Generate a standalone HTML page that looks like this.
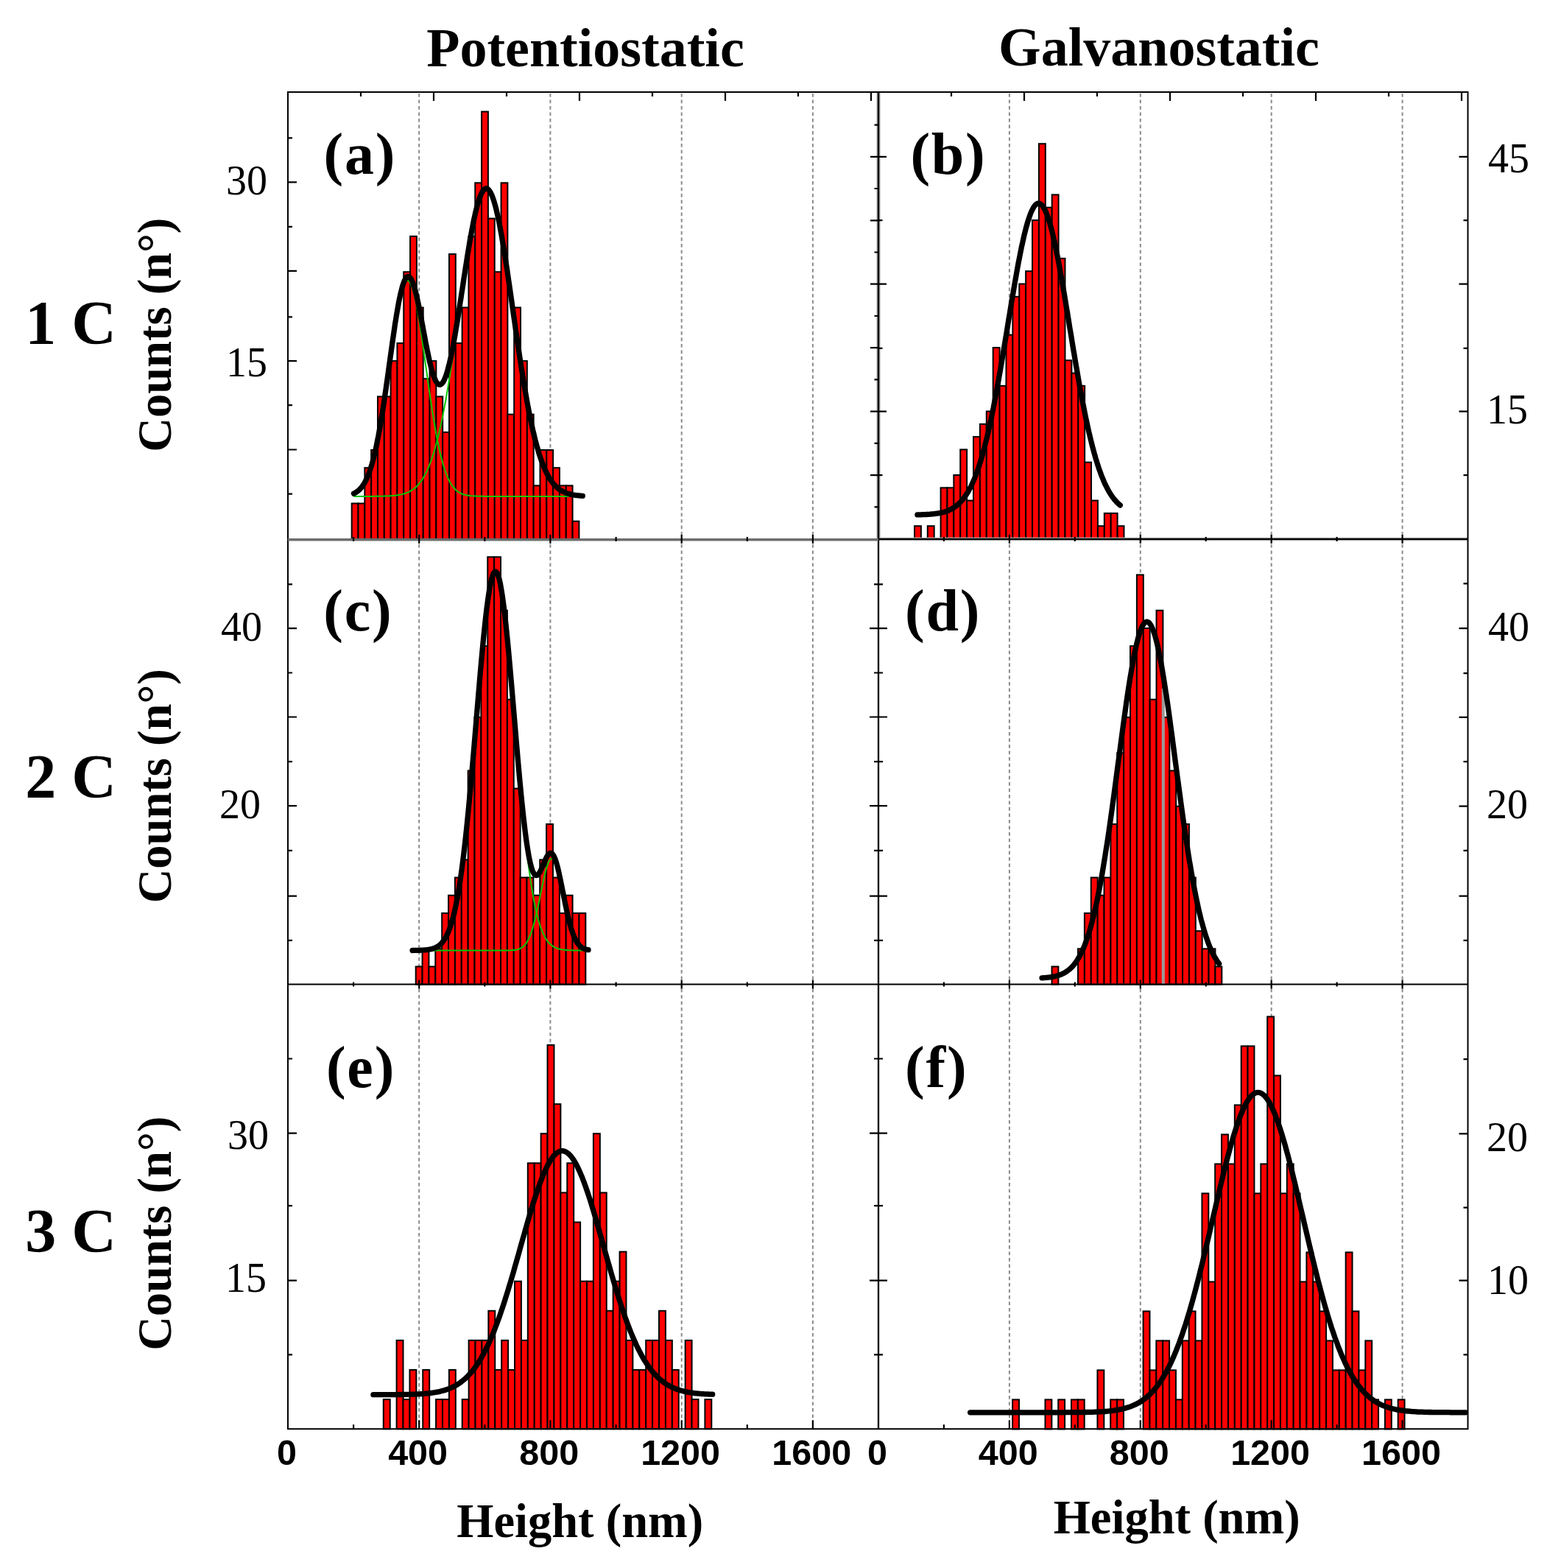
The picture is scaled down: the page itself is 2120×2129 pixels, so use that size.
<!DOCTYPE html>
<html><head><meta charset="utf-8"><style>
html,body{margin:0;padding:0;background:#fff;}
body{width:2120px;height:2129px;overflow:hidden;}
svg{display:block;}
</style></head><body>
<svg width="2120" height="2129" viewBox="0 0 2120 2129">
<rect x="0" y="0" width="2120" height="2129" fill="#fff"/>
<g stroke="#8c8c8c" stroke-width="2" stroke-dasharray="4.8,3.7" fill="none">
<line x1="569.2" y1="127.0" x2="569.2" y2="1939.2"/>
<line x1="747.4" y1="127.0" x2="747.4" y2="1939.2"/>
<line x1="925.7" y1="127.0" x2="925.7" y2="1939.2"/>
<line x1="1103.9" y1="127.0" x2="1103.9" y2="1939.2"/>
<line x1="1370.9" y1="127.0" x2="1370.9" y2="1939.2"/>
<line x1="1548.8" y1="127.0" x2="1548.8" y2="1939.2"/>
<line x1="1726.7" y1="127.0" x2="1726.7" y2="1939.2"/>
<line x1="1904.6" y1="127.0" x2="1904.6" y2="1939.2"/>
</g>
<g fill="#ff0000" stroke="#000" stroke-width="2">
<rect x="477.70" y="683.54" width="8.82" height="48.36"/>
<rect x="486.52" y="683.54" width="8.82" height="48.36"/>
<rect x="495.34" y="635.18" width="8.82" height="96.72"/>
<rect x="504.16" y="611.00" width="8.82" height="120.90"/>
<rect x="512.98" y="538.46" width="8.82" height="193.44"/>
<rect x="521.80" y="538.46" width="8.82" height="193.44"/>
<rect x="530.62" y="490.10" width="8.82" height="241.80"/>
<rect x="539.44" y="465.92" width="8.82" height="265.98"/>
<rect x="548.26" y="369.20" width="8.82" height="362.70"/>
<rect x="557.08" y="320.84" width="8.82" height="411.06"/>
<rect x="565.90" y="417.56" width="8.82" height="314.34"/>
<rect x="574.72" y="514.28" width="8.82" height="217.62"/>
<rect x="583.54" y="490.10" width="8.82" height="241.80"/>
<rect x="592.36" y="538.46" width="8.82" height="193.44"/>
<rect x="601.18" y="586.82" width="8.82" height="145.08"/>
<rect x="610.00" y="345.02" width="8.82" height="386.88"/>
<rect x="618.82" y="465.92" width="8.82" height="265.98"/>
<rect x="627.64" y="417.56" width="8.82" height="314.34"/>
<rect x="636.46" y="320.84" width="8.82" height="411.06"/>
<rect x="645.28" y="248.30" width="8.82" height="483.60"/>
<rect x="654.10" y="151.58" width="8.82" height="580.32"/>
<rect x="662.92" y="296.66" width="8.82" height="435.24"/>
<rect x="671.74" y="369.20" width="8.82" height="362.70"/>
<rect x="680.56" y="248.30" width="8.82" height="483.60"/>
<rect x="689.38" y="562.64" width="8.82" height="169.26"/>
<rect x="698.20" y="417.56" width="8.82" height="314.34"/>
<rect x="707.02" y="490.10" width="8.82" height="241.80"/>
<rect x="715.84" y="562.64" width="8.82" height="169.26"/>
<rect x="724.66" y="659.36" width="8.82" height="72.54"/>
<rect x="733.48" y="611.00" width="8.82" height="120.90"/>
<rect x="742.30" y="611.00" width="8.82" height="120.90"/>
<rect x="751.12" y="635.18" width="8.82" height="96.72"/>
<rect x="759.94" y="659.36" width="8.82" height="72.54"/>
<rect x="768.76" y="659.36" width="8.82" height="72.54"/>
<rect x="777.58" y="707.72" width="8.82" height="24.18"/>
<rect x="1242.00" y="714.20" width="8.89" height="17.30"/>
<rect x="1259.78" y="714.20" width="8.89" height="17.30"/>
<rect x="1277.56" y="662.30" width="8.89" height="69.20"/>
<rect x="1286.45" y="662.30" width="8.89" height="69.20"/>
<rect x="1295.34" y="645.00" width="8.89" height="86.50"/>
<rect x="1304.23" y="610.40" width="8.89" height="121.10"/>
<rect x="1313.12" y="679.60" width="8.89" height="51.90"/>
<rect x="1322.01" y="593.10" width="8.89" height="138.40"/>
<rect x="1330.90" y="575.80" width="8.89" height="155.70"/>
<rect x="1339.79" y="558.50" width="8.89" height="173.00"/>
<rect x="1348.68" y="472.00" width="8.89" height="259.50"/>
<rect x="1357.57" y="523.90" width="8.89" height="207.60"/>
<rect x="1366.46" y="454.70" width="8.89" height="276.80"/>
<rect x="1375.35" y="402.80" width="8.89" height="328.70"/>
<rect x="1384.24" y="385.50" width="8.89" height="346.00"/>
<rect x="1393.13" y="368.20" width="8.89" height="363.30"/>
<rect x="1402.02" y="299.00" width="8.89" height="432.50"/>
<rect x="1410.91" y="195.20" width="8.89" height="536.30"/>
<rect x="1419.80" y="281.70" width="8.89" height="449.80"/>
<rect x="1428.69" y="264.40" width="8.89" height="467.10"/>
<rect x="1437.58" y="350.90" width="8.89" height="380.60"/>
<rect x="1446.47" y="489.30" width="8.89" height="242.20"/>
<rect x="1455.36" y="506.60" width="8.89" height="224.90"/>
<rect x="1464.25" y="523.90" width="8.89" height="207.60"/>
<rect x="1473.14" y="627.70" width="8.89" height="103.80"/>
<rect x="1482.03" y="679.60" width="8.89" height="51.90"/>
<rect x="1490.92" y="714.20" width="8.89" height="17.30"/>
<rect x="1499.81" y="696.90" width="8.89" height="34.60"/>
<rect x="1508.70" y="696.90" width="8.89" height="34.60"/>
<rect x="1517.59" y="714.20" width="8.89" height="17.30"/>
<rect x="564.70" y="1312.42" width="8.87" height="24.18"/>
<rect x="573.57" y="1288.24" width="8.87" height="48.36"/>
<rect x="582.44" y="1312.42" width="8.87" height="24.18"/>
<rect x="591.31" y="1288.24" width="8.87" height="48.36"/>
<rect x="600.18" y="1239.88" width="8.87" height="96.72"/>
<rect x="609.05" y="1215.70" width="8.87" height="120.90"/>
<rect x="617.92" y="1191.52" width="8.87" height="145.08"/>
<rect x="626.79" y="1167.34" width="8.87" height="169.26"/>
<rect x="635.66" y="1046.44" width="8.87" height="290.16"/>
<rect x="644.53" y="973.90" width="8.87" height="362.70"/>
<rect x="653.40" y="877.18" width="8.87" height="459.42"/>
<rect x="662.27" y="756.28" width="8.87" height="580.32"/>
<rect x="671.14" y="756.28" width="8.87" height="580.32"/>
<rect x="680.01" y="828.82" width="8.87" height="507.78"/>
<rect x="688.88" y="949.72" width="8.87" height="386.88"/>
<rect x="697.75" y="1070.62" width="8.87" height="265.98"/>
<rect x="706.62" y="1191.52" width="8.87" height="145.08"/>
<rect x="715.49" y="1191.52" width="8.87" height="145.08"/>
<rect x="724.36" y="1215.70" width="8.87" height="120.90"/>
<rect x="733.23" y="1167.34" width="8.87" height="169.26"/>
<rect x="742.10" y="1118.98" width="8.87" height="217.62"/>
<rect x="750.97" y="1191.52" width="8.87" height="145.08"/>
<rect x="759.84" y="1239.88" width="8.87" height="96.72"/>
<rect x="768.71" y="1215.70" width="8.87" height="120.90"/>
<rect x="777.58" y="1239.88" width="8.87" height="96.72"/>
<rect x="786.45" y="1239.88" width="8.87" height="96.72"/>
<rect x="1428.50" y="1312.42" width="8.88" height="24.18"/>
<rect x="1464.01" y="1288.24" width="8.88" height="48.36"/>
<rect x="1472.88" y="1239.88" width="8.88" height="96.72"/>
<rect x="1481.76" y="1191.52" width="8.88" height="145.08"/>
<rect x="1490.64" y="1215.70" width="8.88" height="120.90"/>
<rect x="1499.52" y="1191.52" width="8.88" height="145.08"/>
<rect x="1508.39" y="1118.98" width="8.88" height="217.62"/>
<rect x="1517.27" y="1022.26" width="8.88" height="314.34"/>
<rect x="1526.15" y="973.90" width="8.88" height="362.70"/>
<rect x="1535.02" y="877.18" width="8.88" height="459.42"/>
<rect x="1543.90" y="780.46" width="8.88" height="556.14"/>
<rect x="1552.78" y="853.00" width="8.88" height="483.60"/>
<rect x="1561.65" y="949.72" width="8.88" height="386.88"/>
<rect x="1570.53" y="828.82" width="8.88" height="507.78"/>
<rect x="1579.41" y="973.90" width="8.88" height="362.70"/>
<rect x="1588.29" y="1046.44" width="8.88" height="290.16"/>
<rect x="1597.16" y="1094.80" width="8.88" height="241.80"/>
<rect x="1606.04" y="1118.98" width="8.88" height="217.62"/>
<rect x="1614.92" y="1191.52" width="8.88" height="145.08"/>
<rect x="1623.79" y="1264.06" width="8.88" height="72.54"/>
<rect x="1632.67" y="1288.24" width="8.88" height="48.36"/>
<rect x="1641.55" y="1288.24" width="8.88" height="48.36"/>
<rect x="1650.42" y="1312.42" width="8.88" height="24.18"/>
<rect x="520.80" y="1900.10" width="8.91" height="40.10"/>
<rect x="538.62" y="1819.90" width="8.91" height="120.30"/>
<rect x="547.53" y="1900.10" width="8.91" height="40.10"/>
<rect x="556.44" y="1860.00" width="8.91" height="80.20"/>
<rect x="574.26" y="1860.00" width="8.91" height="80.20"/>
<rect x="592.08" y="1900.10" width="8.91" height="40.10"/>
<rect x="600.99" y="1900.10" width="8.91" height="40.10"/>
<rect x="609.90" y="1860.00" width="8.91" height="80.20"/>
<rect x="627.72" y="1900.10" width="8.91" height="40.10"/>
<rect x="636.63" y="1819.90" width="8.91" height="120.30"/>
<rect x="645.54" y="1819.90" width="8.91" height="120.30"/>
<rect x="654.45" y="1819.90" width="8.91" height="120.30"/>
<rect x="663.36" y="1779.80" width="8.91" height="160.40"/>
<rect x="672.27" y="1860.00" width="8.91" height="80.20"/>
<rect x="681.18" y="1819.90" width="8.91" height="120.30"/>
<rect x="690.09" y="1860.00" width="8.91" height="80.20"/>
<rect x="699.00" y="1739.70" width="8.91" height="200.50"/>
<rect x="707.91" y="1819.90" width="8.91" height="120.30"/>
<rect x="716.82" y="1579.30" width="8.91" height="360.90"/>
<rect x="725.73" y="1579.30" width="8.91" height="360.90"/>
<rect x="734.64" y="1539.20" width="8.91" height="401.00"/>
<rect x="743.55" y="1418.90" width="8.91" height="521.30"/>
<rect x="752.46" y="1499.10" width="8.91" height="441.10"/>
<rect x="761.37" y="1619.40" width="8.91" height="320.80"/>
<rect x="770.28" y="1579.30" width="8.91" height="360.90"/>
<rect x="779.19" y="1659.50" width="8.91" height="280.70"/>
<rect x="788.10" y="1739.70" width="8.91" height="200.50"/>
<rect x="797.01" y="1739.70" width="8.91" height="200.50"/>
<rect x="805.92" y="1539.20" width="8.91" height="401.00"/>
<rect x="814.83" y="1619.40" width="8.91" height="320.80"/>
<rect x="823.74" y="1779.80" width="8.91" height="160.40"/>
<rect x="832.65" y="1739.70" width="8.91" height="200.50"/>
<rect x="841.56" y="1699.60" width="8.91" height="240.60"/>
<rect x="850.47" y="1819.90" width="8.91" height="120.30"/>
<rect x="859.38" y="1860.00" width="8.91" height="80.20"/>
<rect x="868.29" y="1860.00" width="8.91" height="80.20"/>
<rect x="877.20" y="1819.90" width="8.91" height="120.30"/>
<rect x="886.11" y="1819.90" width="8.91" height="120.30"/>
<rect x="895.02" y="1779.80" width="8.91" height="160.40"/>
<rect x="903.93" y="1819.90" width="8.91" height="120.30"/>
<rect x="912.84" y="1860.00" width="8.91" height="80.20"/>
<rect x="930.66" y="1819.90" width="8.91" height="120.30"/>
<rect x="939.57" y="1900.10" width="8.91" height="40.10"/>
<rect x="957.39" y="1900.10" width="8.91" height="40.10"/>
<rect x="1375.10" y="1900.40" width="8.87" height="40.00"/>
<rect x="1419.47" y="1900.40" width="8.87" height="40.00"/>
<rect x="1437.22" y="1900.40" width="8.87" height="40.00"/>
<rect x="1454.97" y="1900.40" width="8.87" height="40.00"/>
<rect x="1463.84" y="1900.40" width="8.87" height="40.00"/>
<rect x="1490.46" y="1860.40" width="8.87" height="80.00"/>
<rect x="1508.21" y="1900.40" width="8.87" height="40.00"/>
<rect x="1517.08" y="1900.40" width="8.87" height="40.00"/>
<rect x="1552.58" y="1780.40" width="8.87" height="160.00"/>
<rect x="1561.45" y="1860.40" width="8.87" height="80.00"/>
<rect x="1570.33" y="1820.40" width="8.87" height="120.00"/>
<rect x="1579.20" y="1820.40" width="8.87" height="120.00"/>
<rect x="1588.08" y="1860.40" width="8.87" height="80.00"/>
<rect x="1596.95" y="1900.40" width="8.87" height="40.00"/>
<rect x="1605.82" y="1820.40" width="8.87" height="120.00"/>
<rect x="1614.70" y="1780.40" width="8.87" height="160.00"/>
<rect x="1623.57" y="1820.40" width="8.87" height="120.00"/>
<rect x="1632.45" y="1620.40" width="8.87" height="320.00"/>
<rect x="1641.32" y="1740.40" width="8.87" height="200.00"/>
<rect x="1650.19" y="1580.40" width="8.87" height="360.00"/>
<rect x="1659.07" y="1540.40" width="8.87" height="400.00"/>
<rect x="1667.94" y="1580.40" width="8.87" height="360.00"/>
<rect x="1676.82" y="1500.40" width="8.87" height="440.00"/>
<rect x="1685.69" y="1420.40" width="8.87" height="520.00"/>
<rect x="1694.56" y="1420.40" width="8.87" height="520.00"/>
<rect x="1703.44" y="1620.40" width="8.87" height="320.00"/>
<rect x="1712.31" y="1580.40" width="8.87" height="360.00"/>
<rect x="1721.19" y="1380.40" width="8.87" height="560.00"/>
<rect x="1730.06" y="1460.40" width="8.87" height="480.00"/>
<rect x="1738.93" y="1620.40" width="8.87" height="320.00"/>
<rect x="1747.81" y="1580.40" width="8.87" height="360.00"/>
<rect x="1756.68" y="1620.40" width="8.87" height="320.00"/>
<rect x="1765.56" y="1740.40" width="8.87" height="200.00"/>
<rect x="1774.43" y="1700.40" width="8.87" height="240.00"/>
<rect x="1783.30" y="1740.40" width="8.87" height="200.00"/>
<rect x="1792.18" y="1780.40" width="8.87" height="160.00"/>
<rect x="1801.05" y="1820.40" width="8.87" height="120.00"/>
<rect x="1809.93" y="1860.40" width="8.87" height="80.00"/>
<rect x="1818.80" y="1860.40" width="8.87" height="80.00"/>
<rect x="1827.67" y="1700.40" width="8.87" height="240.00"/>
<rect x="1836.55" y="1780.40" width="8.87" height="160.00"/>
<rect x="1845.42" y="1860.40" width="8.87" height="80.00"/>
<rect x="1854.30" y="1820.40" width="8.87" height="120.00"/>
<rect x="1863.17" y="1900.40" width="8.87" height="40.00"/>
<rect x="1880.92" y="1900.40" width="8.87" height="40.00"/>
<rect x="1898.67" y="1900.40" width="8.87" height="40.00"/>
</g>
<rect x="1577.8" y="935" width="4" height="401" fill="#9a9a9a"/>
<path d="M480.3,670.2 L481.3,669.7 L482.3,669.2 L483.2,668.6 L484.2,668.0 L485.2,667.3 L486.2,666.6 L487.2,665.7 L488.1,664.8 L489.1,663.8 L490.1,662.8 L491.1,661.6 L492.1,660.3 L493.1,658.9 L494.0,657.4 L495.0,655.8 L496.0,654.0 L497.0,652.1 L498.0,650.1 L498.9,647.9 L499.9,645.5 L500.9,643.0 L501.9,640.3 L502.9,637.5 L503.8,634.4 L504.8,631.2 L505.8,627.8 L506.8,624.2 L507.8,620.3 L508.7,616.3 L509.7,612.1 L510.7,607.7 L511.7,603.1 L512.7,598.2 L513.7,593.2 L514.6,587.9 L515.6,582.5 L516.6,576.9 L517.6,571.1 L518.6,565.1 L519.5,558.9 L520.5,552.6 L521.5,546.2 L522.5,539.6 L523.5,532.9 L524.4,526.1 L525.4,519.2 L526.4,512.2 L527.4,505.2 L528.4,498.2 L529.3,491.1 L530.3,484.1 L531.3,477.1 L532.3,470.2 L533.3,463.3 L534.3,456.6 L535.2,450.0 L536.2,443.6 L537.2,437.4 L538.2,431.3 L539.2,425.5 L540.1,420.0 L541.1,414.8 L542.1,409.8 L543.1,405.2 L544.1,400.9 L545.0,397.0 L546.0,393.5 L547.0,390.4 L548.0,387.7 L549.0,385.5 L549.9,383.6 L550.9,382.3 L551.9,381.3 L552.9,380.9 L553.9,380.9 L554.9,381.3 L555.8,382.2 L556.8,383.6 L557.8,385.4 L558.8,387.6 L559.8,390.3 L560.7,393.4 L561.7,396.9 L562.7,400.8 L563.7,405.0 L564.7,409.6 L565.6,414.5 L566.6,419.8 L567.6,425.3 L568.6,431.1 L569.6,437.1 L570.5,443.3 L571.5,449.8 L572.5,456.3 L573.5,463.1 L574.5,469.9 L575.5,476.8 L576.4,483.8 L577.4,490.8 L578.4,497.9 L579.4,504.9 L580.4,511.9 L581.3,518.9 L582.3,525.8 L583.3,532.6 L584.3,539.3 L585.3,545.9 L586.2,552.4 L587.2,558.7 L588.2,564.8 L589.2,570.8 L590.2,576.7 L591.1,582.3 L592.1,587.7 L593.1,593.0 L594.1,598.0 L595.1,602.9 L596.1,607.5 L597.0,611.9 L598.0,616.2 L599.0,620.2 L600.0,624.0 L601.0,627.6 L601.9,631.1 L602.9,634.3 L603.9,637.3 L604.9,640.2 L605.9,642.9 L606.8,645.4 L607.8,647.8 L608.8,650.0 L609.8,652.0 L610.8,653.9 L611.7,655.7 L612.7,657.3 L613.7,658.8 L614.7,660.2 L615.7,661.5 L616.7,662.7 L617.6,663.8 L618.6,664.8 L619.6,665.7 L620.6,666.5 L621.6,667.3 L622.5,668.0 L623.5,668.6 L624.5,669.2 L625.5,669.7 L626.5,670.1 L627.4,670.6 L628.4,670.9 L629.4,671.3 L630.4,671.6 L631.4,671.8 L632.3,672.1 L633.3,672.3 L634.3,672.5 L635.3,672.7 L636.3,672.8 L637.2,673.0 L638.2,673.1 L639.2,673.2 L640.2,673.3 L641.2,673.4 L642.2,673.4 L643.1,673.5 L644.1,673.5 L645.1,673.6 L646.1,673.6 L647.1,673.7 L648.0,673.7 L649.0,673.7 L650.0,673.8 L651.0,673.8 L652.0,673.8 L652.9,673.8 L653.9,673.8 L654.9,673.8 L655.9,673.8 L656.9,673.9 L657.8,673.9 L658.8,673.9 L659.8,673.9 L660.8,673.9 L661.8,673.9 L662.8,673.9 L663.7,673.9 L664.7,673.9 L665.7,673.9 L666.7,673.9 L667.7,673.9 L668.6,673.9 L669.6,673.9 L670.6,673.9 L671.6,673.9 L672.6,673.9 L673.5,673.9 L674.5,673.9 L675.5,673.9 L676.5,673.9 L677.5,673.9 L678.4,673.9 L679.4,673.9 L680.4,673.9 L681.4,673.9 L682.4,673.9 L683.4,673.9 L684.3,673.9 L685.3,673.9 L686.3,673.9 L687.3,673.9 L688.3,673.9 L689.2,673.9 L690.2,673.9 L691.2,673.9 L692.2,673.9 L693.2,673.9 L694.1,673.9 L695.1,673.9 L696.1,673.9 L697.1,673.9 L698.1,673.9 L699.0,673.9 L700.0,673.9 L701.0,673.9 L702.0,673.9 L703.0,673.9 L704.0,673.9 L704.9,673.9 L705.9,673.9 L706.9,673.9 L707.9,673.9 L708.9,673.9 L709.8,673.9 L710.8,673.9 L711.8,673.9 L712.8,673.9 L713.8,673.9 L714.7,673.9 L715.7,673.9 L716.7,673.9 L717.7,673.9 L718.7,673.9 L719.6,673.9 L720.6,673.9 L721.6,673.9 L722.6,673.9 L723.6,673.9 L724.6,673.9 L725.5,673.9 L726.5,673.9 L727.5,673.9 L728.5,673.9 L729.5,673.9 L730.4,673.9 L731.4,673.9 L732.4,673.9 L733.4,673.9 L734.4,673.9 L735.3,673.9 L736.3,673.9 L737.3,673.9 L738.3,673.9 L739.3,673.9 L740.2,673.9 L741.2,673.9 L742.2,673.9 L743.2,673.9 L744.2,673.9 L745.2,673.9 L746.1,673.9 L747.1,673.9 L748.1,673.9 L749.1,673.9 L750.1,673.9 L751.0,673.9 L752.0,673.9 L753.0,673.9 L754.0,673.9 L755.0,673.9 L755.9,673.9 L756.9,673.9 L757.9,673.9 L758.9,673.9 L759.9,673.9 L760.8,673.9 L761.8,673.9 L762.8,673.9 L763.8,673.9 L764.8,673.9 L765.8,673.9 L766.7,673.9 L767.7,673.9 L768.7,673.9 L769.7,673.9 L770.7,673.9 L771.6,673.9 L772.6,673.9 L773.6,673.9" fill="none" stroke="#00c800" stroke-width="2"/>
<path d="M480.3,673.9 L481.3,673.9 L482.3,673.9 L483.2,673.9 L484.2,673.9 L485.2,673.9 L486.2,673.9 L487.2,673.9 L488.1,673.9 L489.1,673.9 L490.1,673.9 L491.1,673.9 L492.1,673.9 L493.1,673.9 L494.0,673.9 L495.0,673.9 L496.0,673.9 L497.0,673.9 L498.0,673.9 L498.9,673.9 L499.9,673.9 L500.9,673.9 L501.9,673.9 L502.9,673.9 L503.8,673.9 L504.8,673.9 L505.8,673.9 L506.8,673.9 L507.8,673.8 L508.7,673.8 L509.7,673.8 L510.7,673.8 L511.7,673.8 L512.7,673.8 L513.7,673.8 L514.6,673.8 L515.6,673.8 L516.6,673.8 L517.6,673.7 L518.6,673.7 L519.5,673.7 L520.5,673.7 L521.5,673.6 L522.5,673.6 L523.5,673.6 L524.4,673.6 L525.4,673.5 L526.4,673.5 L527.4,673.4 L528.4,673.4 L529.3,673.3 L530.3,673.3 L531.3,673.2 L532.3,673.1 L533.3,673.1 L534.3,673.0 L535.2,672.9 L536.2,672.8 L537.2,672.7 L538.2,672.5 L539.2,672.4 L540.1,672.3 L541.1,672.1 L542.1,672.0 L543.1,671.8 L544.1,671.6 L545.0,671.4 L546.0,671.1 L547.0,670.9 L548.0,670.6 L549.0,670.3 L549.9,670.0 L550.9,669.7 L551.9,669.3 L552.9,668.9 L553.9,668.5 L554.9,668.1 L555.8,667.6 L556.8,667.1 L557.8,666.5 L558.8,666.0 L559.8,665.3 L560.7,664.7 L561.7,663.9 L562.7,663.2 L563.7,662.4 L564.7,661.5 L565.6,660.6 L566.6,659.6 L567.6,658.5 L568.6,657.4 L569.6,656.3 L570.5,655.0 L571.5,653.7 L572.5,652.3 L573.5,650.9 L574.5,649.3 L575.5,647.7 L576.4,646.0 L577.4,644.1 L578.4,642.2 L579.4,640.2 L580.4,638.1 L581.3,635.9 L582.3,633.6 L583.3,631.2 L584.3,628.7 L585.3,626.0 L586.2,623.2 L587.2,620.3 L588.2,617.3 L589.2,614.2 L590.2,610.9 L591.1,607.5 L592.1,604.0 L593.1,600.4 L594.1,596.6 L595.1,592.6 L596.1,588.6 L597.0,584.4 L598.0,580.0 L599.0,575.6 L600.0,570.9 L601.0,566.2 L601.9,561.3 L602.9,556.3 L603.9,551.1 L604.9,545.8 L605.9,540.4 L606.8,534.9 L607.8,529.2 L608.8,523.4 L609.8,517.5 L610.8,511.5 L611.7,505.4 L612.7,499.2 L613.7,492.9 L614.7,486.4 L615.7,480.0 L616.7,473.4 L617.6,466.7 L618.6,460.1 L619.6,453.3 L620.6,446.5 L621.6,439.7 L622.5,432.8 L623.5,425.9 L624.5,419.0 L625.5,412.2 L626.5,405.3 L627.4,398.4 L628.4,391.6 L629.4,384.9 L630.4,378.1 L631.4,371.5 L632.3,364.9 L633.3,358.4 L634.3,352.1 L635.3,345.8 L636.3,339.7 L637.2,333.7 L638.2,327.8 L639.2,322.1 L640.2,316.6 L641.2,311.3 L642.2,306.1 L643.1,301.2 L644.1,296.4 L645.1,291.9 L646.1,287.6 L647.1,283.6 L648.0,279.8 L649.0,276.3 L650.0,273.0 L651.0,270.0 L652.0,267.3 L652.9,264.8 L653.9,262.7 L654.9,260.8 L655.9,259.3 L656.9,258.0 L657.8,257.0 L658.8,256.4 L659.8,256.1 L660.8,256.0 L661.8,256.3 L662.8,256.9 L663.7,257.8 L664.7,259.0 L665.7,260.5 L666.7,262.3 L667.7,264.4 L668.6,266.7 L669.6,269.4 L670.6,272.4 L671.6,275.6 L672.6,279.1 L673.5,282.8 L674.5,286.8 L675.5,291.0 L676.5,295.5 L677.5,300.2 L678.4,305.1 L679.4,310.2 L680.4,315.5 L681.4,321.0 L682.4,326.7 L683.4,332.5 L684.3,338.5 L685.3,344.6 L686.3,350.8 L687.3,357.2 L688.3,363.6 L689.2,370.2 L690.2,376.8 L691.2,383.5 L692.2,390.3 L693.2,397.1 L694.1,403.9 L695.1,410.8 L696.1,417.7 L697.1,424.6 L698.1,431.4 L699.0,438.3 L700.0,445.1 L701.0,451.9 L702.0,458.7 L703.0,465.4 L704.0,472.1 L704.9,478.6 L705.9,485.2 L706.9,491.6 L707.9,497.9 L708.9,504.2 L709.8,510.3 L710.8,516.3 L711.8,522.3 L712.8,528.1 L713.8,533.8 L714.7,539.3 L715.7,544.8 L716.7,550.1 L717.7,555.3 L718.7,560.3 L719.6,565.2 L720.6,570.0 L721.6,574.6 L722.6,579.1 L723.6,583.5 L724.6,587.7 L725.5,591.8 L726.5,595.8 L727.5,599.6 L728.5,603.3 L729.5,606.8 L730.4,610.3 L731.4,613.6 L732.4,616.7 L733.4,619.8 L734.4,622.7 L735.3,625.5 L736.3,628.1 L737.3,630.7 L738.3,633.1 L739.3,635.5 L740.2,637.7 L741.2,639.8 L742.2,641.8 L743.2,643.8 L744.2,645.6 L745.2,647.3 L746.1,649.0 L747.1,650.6 L748.1,652.0 L749.1,653.4 L750.1,654.8 L751.0,656.0 L752.0,657.2 L753.0,658.3 L754.0,659.4 L755.0,660.4 L755.9,661.3 L756.9,662.2 L757.9,663.0 L758.9,663.8 L759.9,664.5 L760.8,665.2 L761.8,665.8 L762.8,666.4 L763.8,667.0 L764.8,667.5 L765.8,668.0 L766.7,668.4 L767.7,668.9 L768.7,669.3 L769.7,669.6 L770.7,670.0 L771.6,670.3 L772.6,670.6 L773.6,670.8" fill="none" stroke="#00c800" stroke-width="2"/>
<path d="M480.5,670.1 L481.5,669.6 L482.6,669.0 L483.6,668.4 L484.7,667.7 L485.7,666.9 L486.7,666.1 L487.8,665.2 L488.8,664.2 L489.9,663.0 L490.9,661.8 L491.9,660.5 L493.0,659.0 L494.0,657.4 L495.1,655.7 L496.1,653.8 L497.1,651.8 L498.2,649.6 L499.2,647.2 L500.3,644.6 L501.3,641.9 L502.3,639.0 L503.4,635.9 L504.4,632.5 L505.5,629.0 L506.5,625.2 L507.5,621.2 L508.6,617.0 L509.6,612.5 L510.7,607.9 L511.7,603.0 L512.7,597.8 L513.8,592.4 L514.8,586.8 L515.9,581.0 L516.9,575.0 L517.9,568.7 L519.0,562.3 L520.0,555.7 L521.1,548.9 L522.1,541.9 L523.1,534.8 L524.2,527.6 L525.2,520.3 L526.3,512.9 L527.3,505.4 L528.3,497.9 L529.4,490.4 L530.4,482.9 L531.5,475.4 L532.5,468.0 L533.5,460.7 L534.6,453.5 L535.6,446.5 L536.6,439.6 L537.7,433.0 L538.7,426.6 L539.8,420.5 L540.8,414.6 L541.8,409.1 L542.9,404.0 L543.9,399.2 L545.0,394.8 L546.0,390.8 L547.0,387.3 L548.1,384.2 L549.1,381.5 L550.2,379.3 L551.2,377.6 L552.2,376.4 L553.3,375.7 L554.3,375.4 L555.4,375.7 L556.4,376.4 L557.4,377.5 L558.5,379.2 L559.5,381.2 L560.6,383.7 L561.6,386.6 L562.6,389.9 L563.7,393.5 L564.7,397.5 L565.8,401.7 L566.8,406.3 L567.8,411.1 L568.9,416.1 L569.9,421.3 L571.0,426.6 L572.0,432.1 L573.0,437.6 L574.1,443.2 L575.1,448.8 L576.2,454.4 L577.2,460.0 L578.2,465.4 L579.3,470.8 L580.3,476.0 L581.4,481.0 L582.4,485.9 L583.4,490.5 L584.5,494.9 L585.5,499.0 L586.6,502.8 L587.6,506.4 L588.6,509.6 L589.7,512.5 L590.7,515.0 L591.8,517.2 L592.8,519.0 L593.8,520.4 L594.9,521.4 L595.9,522.1 L597.0,522.4 L598.0,522.3 L599.0,521.8 L600.1,520.9 L601.1,519.7 L602.2,518.1 L603.2,516.1 L604.2,513.8 L605.3,511.1 L606.3,508.0 L607.4,504.7 L608.4,501.0 L609.4,497.0 L610.5,492.8 L611.5,488.2 L612.6,483.4 L613.6,478.4 L614.6,473.1 L615.7,467.6 L616.7,461.8 L617.8,455.9 L618.8,449.9 L619.8,443.6 L620.9,437.3 L621.9,430.8 L623.0,424.2 L624.0,417.6 L625.0,410.8 L626.1,404.1 L627.1,397.3 L628.2,390.4 L629.2,383.6 L630.2,376.8 L631.3,370.0 L632.3,363.3 L633.4,356.7 L634.4,350.1 L635.4,343.7 L636.5,337.4 L637.5,331.2 L638.5,325.2 L639.6,319.3 L640.6,313.6 L641.7,308.1 L642.7,302.8 L643.7,297.8 L644.8,293.0 L645.8,288.4 L646.9,284.1 L647.9,280.1 L648.9,276.3 L650.0,272.9 L651.0,269.7 L652.1,266.9 L653.1,264.4 L654.1,262.1 L655.2,260.3 L656.2,258.7 L657.3,257.5 L658.3,256.7 L659.3,256.1 L660.4,256.0 L661.4,256.1 L662.5,256.7 L663.5,257.5 L664.5,258.7 L665.6,260.3 L666.6,262.2 L667.7,264.4 L668.7,266.9 L669.7,269.8 L670.8,272.9 L671.8,276.4 L672.9,280.2 L673.9,284.2 L674.9,288.6 L676.0,293.2 L677.0,298.0 L678.1,303.1 L679.1,308.5 L680.1,314.0 L681.2,319.8 L682.2,325.8 L683.3,331.9 L684.3,338.2 L685.3,344.7 L686.4,351.3 L687.4,358.1 L688.5,365.0 L689.5,371.9 L690.5,379.0 L691.6,386.1 L692.6,393.3 L693.7,400.5 L694.7,407.8 L695.7,415.1 L696.8,422.4 L697.8,429.7 L698.9,437.0 L699.9,444.2 L700.9,451.4 L702.0,458.6 L703.0,465.7 L704.1,472.8 L705.1,479.7 L706.1,486.6 L707.2,493.4 L708.2,500.1 L709.3,506.7 L710.3,513.1 L711.3,519.5 L712.4,525.7 L713.4,531.7 L714.5,537.7 L715.5,543.5 L716.5,549.2 L717.6,554.7 L718.6,560.0 L719.7,565.2 L720.7,570.3 L721.7,575.2 L722.8,580.0 L723.8,584.6 L724.9,589.0 L725.9,593.3 L726.9,597.4 L728.0,601.4 L729.0,605.2 L730.1,608.9 L731.1,612.5 L732.1,615.9 L733.2,619.1 L734.2,622.2 L735.3,625.2 L736.3,628.0 L737.3,630.8 L738.4,633.3 L739.4,635.8 L740.4,638.1 L741.5,640.4 L742.5,642.5 L743.6,644.5 L744.6,646.4 L745.6,648.2 L746.7,649.9 L747.7,651.5 L748.8,653.0 L749.8,654.4 L750.8,655.8 L751.9,657.1 L752.9,658.2 L754.0,659.4 L755.0,660.4 L756.0,661.4 L757.1,662.3 L758.1,663.2 L759.2,664.0 L760.2,664.8 L761.2,665.5 L762.3,666.1 L763.3,666.7 L764.4,667.3 L765.4,667.8 L766.4,668.3 L767.5,668.8 L768.5,669.2 L769.6,669.6 L770.6,669.9 L771.6,670.3 L772.7,670.6 L773.7,670.9 L774.8,671.1 L775.8,671.4 L776.8,671.6 L777.9,671.8 L778.9,672.0 L780.0,672.2 L781.0,672.3 L782.0,672.5 L783.1,672.6 L784.1,672.7 L785.2,672.8 L786.2,672.9 L787.2,673.0 L788.3,673.1 L789.3,673.2 L790.4,673.3 L791.4,673.3" fill="none" stroke="#000" stroke-width="7.3" stroke-linejoin="round" stroke-linecap="round"/>
<path d="M1245.9,698.9 L1246.8,698.9 L1247.7,698.9 L1248.7,698.8 L1249.6,698.8 L1250.5,698.8 L1251.4,698.8 L1252.3,698.7 L1253.3,698.7 L1254.2,698.7 L1255.1,698.6 L1256.0,698.6 L1257.0,698.6 L1257.9,698.5 L1258.8,698.5 L1259.7,698.4 L1260.6,698.4 L1261.6,698.3 L1262.5,698.3 L1263.4,698.2 L1264.3,698.1 L1265.2,698.0 L1266.2,697.9 L1267.1,697.9 L1268.0,697.8 L1268.9,697.7 L1269.8,697.5 L1270.8,697.4 L1271.7,697.3 L1272.6,697.2 L1273.5,697.0 L1274.5,696.9 L1275.4,696.7 L1276.3,696.5 L1277.2,696.3 L1278.1,696.2 L1279.1,695.9 L1280.0,695.7 L1280.9,695.5 L1281.8,695.2 L1282.7,695.0 L1283.7,694.7 L1284.6,694.4 L1285.5,694.1 L1286.4,693.7 L1287.3,693.4 L1288.3,693.0 L1289.2,692.6 L1290.1,692.1 L1291.0,691.7 L1292.0,691.2 L1292.9,690.7 L1293.8,690.2 L1294.7,689.6 L1295.6,689.0 L1296.6,688.4 L1297.5,687.8 L1298.4,687.1 L1299.3,686.4 L1300.2,685.6 L1301.2,684.8 L1302.1,684.0 L1303.0,683.1 L1303.9,682.2 L1304.8,681.2 L1305.8,680.2 L1306.7,679.2 L1307.6,678.1 L1308.5,676.9 L1309.5,675.7 L1310.4,674.4 L1311.3,673.1 L1312.2,671.7 L1313.1,670.3 L1314.1,668.8 L1315.0,667.2 L1315.9,665.6 L1316.8,663.9 L1317.7,662.2 L1318.7,660.4 L1319.6,658.5 L1320.5,656.5 L1321.4,654.5 L1322.3,652.4 L1323.3,650.2 L1324.2,647.9 L1325.1,645.5 L1326.0,643.1 L1327.0,640.6 L1327.9,638.0 L1328.8,635.3 L1329.7,632.6 L1330.6,629.7 L1331.6,626.8 L1332.5,623.8 L1333.4,620.6 L1334.3,617.4 L1335.2,614.1 L1336.2,610.8 L1337.1,607.3 L1338.0,603.7 L1338.9,600.1 L1339.8,596.3 L1340.8,592.5 L1341.7,588.6 L1342.6,584.5 L1343.5,580.4 L1344.5,576.2 L1345.4,572.0 L1346.3,567.6 L1347.2,563.2 L1348.1,558.6 L1349.1,554.0 L1350.0,549.3 L1350.9,544.5 L1351.8,539.7 L1352.7,534.8 L1353.7,529.8 L1354.6,524.7 L1355.5,519.6 L1356.4,514.4 L1357.3,509.2 L1358.3,503.9 L1359.2,498.5 L1360.1,493.1 L1361.0,487.7 L1362.0,482.2 L1362.9,476.7 L1363.8,471.1 L1364.7,465.6 L1365.6,460.0 L1366.6,454.4 L1367.5,448.8 L1368.4,443.1 L1369.3,437.5 L1370.2,431.9 L1371.2,426.3 L1372.1,420.7 L1373.0,415.1 L1373.9,409.6 L1374.8,404.1 L1375.8,398.6 L1376.7,393.2 L1377.6,387.8 L1378.5,382.5 L1379.5,377.2 L1380.4,372.0 L1381.3,366.9 L1382.2,361.9 L1383.1,357.0 L1384.1,352.1 L1385.0,347.4 L1385.9,342.8 L1386.8,338.2 L1387.7,333.8 L1388.7,329.6 L1389.6,325.4 L1390.5,321.4 L1391.4,317.5 L1392.4,313.8 L1393.3,310.2 L1394.2,306.8 L1395.1,303.6 L1396.0,300.5 L1397.0,297.5 L1397.9,294.8 L1398.8,292.2 L1399.7,289.8 L1400.6,287.6 L1401.6,285.6 L1402.5,283.7 L1403.4,282.1 L1404.3,280.6 L1405.2,279.4 L1406.2,278.3 L1407.1,277.5 L1408.0,276.8 L1408.9,276.4 L1409.9,276.2 L1410.8,276.1 L1411.7,276.3 L1412.6,276.6 L1413.5,277.2 L1414.5,278.0 L1415.4,278.9 L1416.3,280.1 L1417.2,281.5 L1418.1,283.0 L1419.1,284.8 L1420.0,286.7 L1420.9,288.9 L1421.8,291.2 L1422.7,293.7 L1423.7,296.4 L1424.6,299.2 L1425.5,302.3 L1426.4,305.5 L1427.4,308.8 L1428.3,312.3 L1429.2,316.0 L1430.1,319.8 L1431.0,323.8 L1432.0,327.8 L1432.9,332.1 L1433.8,336.4 L1434.7,340.9 L1435.6,345.5 L1436.6,350.2 L1437.5,355.0 L1438.4,359.9 L1439.3,364.9 L1440.2,369.9 L1441.2,375.1 L1442.1,380.3 L1443.0,385.6 L1443.9,390.9 L1444.9,396.4 L1445.8,401.8 L1446.7,407.3 L1447.6,412.8 L1448.5,418.4 L1449.5,424.0 L1450.4,429.6 L1451.3,435.2 L1452.2,440.8 L1453.1,446.5 L1454.1,452.1 L1455.0,457.7 L1455.9,463.3 L1456.8,468.9 L1457.7,474.4 L1458.7,480.0 L1459.6,485.4 L1460.5,490.9 L1461.4,496.3 L1462.4,501.7 L1463.3,507.0 L1464.2,512.3 L1465.1,517.5 L1466.0,522.6 L1467.0,527.7 L1467.9,532.7 L1468.8,537.7 L1469.7,542.6 L1470.6,547.4 L1471.6,552.1 L1472.5,556.7 L1473.4,561.3 L1474.3,565.8 L1475.2,570.2 L1476.2,574.5 L1477.1,578.7 L1478.0,582.9 L1478.9,586.9 L1479.9,590.9 L1480.8,594.8 L1481.7,598.5 L1482.6,602.2 L1483.5,605.8 L1484.5,609.4 L1485.4,612.8 L1486.3,616.1 L1487.2,619.3 L1488.1,622.5 L1489.1,625.6 L1490.0,628.5 L1490.9,631.4 L1491.8,634.2 L1492.7,636.9 L1493.7,639.6 L1494.6,642.1 L1495.5,644.6 L1496.4,646.9 L1497.4,649.2 L1498.3,651.5 L1499.2,653.6 L1500.1,655.7 L1501.0,657.7 L1502.0,659.6 L1502.9,661.4 L1503.8,663.2 L1504.7,664.9 L1505.6,666.6 L1506.6,668.2 L1507.5,669.7 L1508.4,671.1 L1509.3,672.5 L1510.2,673.9 L1511.2,675.2 L1512.1,676.4 L1513.0,677.6 L1513.9,678.7 L1514.9,679.8 L1515.8,680.8 L1516.7,681.8 L1517.6,682.7 L1518.5,683.6 L1519.5,684.5 L1520.4,685.3 L1521.3,686.1" fill="none" stroke="#000" stroke-width="7.3" stroke-linejoin="round" stroke-linecap="round"/>
<path d="M562.0,1290.4 L562.8,1290.4 L563.6,1290.4 L564.3,1290.4 L565.1,1290.4 L565.9,1290.4 L566.7,1290.4 L567.4,1290.4 L568.2,1290.3 L569.0,1290.3 L569.8,1290.3 L570.6,1290.3 L571.3,1290.2 L572.1,1290.2 L572.9,1290.2 L573.7,1290.1 L574.4,1290.1 L575.2,1290.1 L576.0,1290.0 L576.8,1289.9 L577.6,1289.9 L578.3,1289.8 L579.1,1289.7 L579.9,1289.6 L580.7,1289.5 L581.4,1289.4 L582.2,1289.3 L583.0,1289.2 L583.8,1289.0 L584.6,1288.9 L585.3,1288.7 L586.1,1288.5 L586.9,1288.3 L587.7,1288.1 L588.4,1287.8 L589.2,1287.6 L590.0,1287.3 L590.8,1287.0 L591.5,1286.6 L592.3,1286.2 L593.1,1285.8 L593.9,1285.4 L594.7,1284.9 L595.4,1284.4 L596.2,1283.8 L597.0,1283.2 L597.8,1282.5 L598.5,1281.8 L599.3,1281.0 L600.1,1280.2 L600.9,1279.3 L601.7,1278.3 L602.4,1277.3 L603.2,1276.2 L604.0,1275.0 L604.8,1273.7 L605.5,1272.4 L606.3,1270.9 L607.1,1269.4 L607.9,1267.7 L608.7,1266.0 L609.4,1264.1 L610.2,1262.1 L611.0,1260.0 L611.8,1257.8 L612.5,1255.4 L613.3,1252.9 L614.1,1250.3 L614.9,1247.5 L615.7,1244.5 L616.4,1241.4 L617.2,1238.2 L618.0,1234.8 L618.8,1231.2 L619.5,1227.4 L620.3,1223.4 L621.1,1219.3 L621.9,1214.9 L622.7,1210.4 L623.4,1205.7 L624.2,1200.8 L625.0,1195.7 L625.8,1190.4 L626.5,1184.8 L627.3,1179.1 L628.1,1173.2 L628.9,1167.1 L629.7,1160.7 L630.4,1154.2 L631.2,1147.4 L632.0,1140.5 L632.8,1133.3 L633.5,1126.0 L634.3,1118.5 L635.1,1110.8 L635.9,1102.9 L636.6,1094.8 L637.4,1086.6 L638.2,1078.3 L639.0,1069.7 L639.8,1061.1 L640.5,1052.3 L641.3,1043.4 L642.1,1034.4 L642.9,1025.3 L643.6,1016.2 L644.4,1006.9 L645.2,997.6 L646.0,988.3 L646.8,979.0 L647.5,969.7 L648.3,960.4 L649.1,951.1 L649.9,941.9 L650.6,932.7 L651.4,923.6 L652.2,914.7 L653.0,905.8 L653.8,897.1 L654.5,888.6 L655.3,880.2 L656.1,872.1 L656.9,864.2 L657.6,856.5 L658.4,849.0 L659.2,841.9 L660.0,835.0 L660.8,828.4 L661.5,822.2 L662.3,816.3 L663.1,810.8 L663.9,805.6 L664.6,800.8 L665.4,796.4 L666.2,792.4 L667.0,788.8 L667.8,785.7 L668.5,783.0 L669.3,780.7 L670.1,778.9 L670.9,777.5 L671.6,776.6 L672.4,776.2 L673.2,776.2 L674.0,776.6 L674.8,777.5 L675.5,778.9 L676.3,780.8 L677.1,783.0 L677.9,785.8 L678.6,788.9 L679.4,792.5 L680.2,796.5 L681.0,800.9 L681.7,805.7 L682.5,810.9 L683.3,816.4 L684.1,822.3 L684.9,828.6 L685.6,835.1 L686.4,842.0 L687.2,849.2 L688.0,856.6 L688.7,864.3 L689.5,872.2 L690.3,880.4 L691.1,888.7 L691.9,897.3 L692.6,906.0 L693.4,914.8 L694.2,923.8 L695.0,932.9 L695.7,942.0 L696.5,951.3 L697.3,960.5 L698.1,969.8 L698.9,979.2 L699.6,988.5 L700.4,997.8 L701.2,1007.1 L702.0,1016.3 L702.7,1025.5 L703.5,1034.6 L704.3,1043.6 L705.1,1052.5 L705.9,1061.2 L706.6,1069.9 L707.4,1078.4 L708.2,1086.8 L709.0,1095.0 L709.7,1103.0 L710.5,1110.9 L711.3,1118.6 L712.1,1126.1 L712.9,1133.5 L713.6,1140.6 L714.4,1147.5 L715.2,1154.3 L716.0,1160.8 L716.7,1167.2 L717.5,1173.3 L718.3,1179.2 L719.1,1184.9 L719.9,1190.5 L720.6,1195.8 L721.4,1200.9 L722.2,1205.8 L723.0,1210.5 L723.7,1215.0 L724.5,1219.4 L725.3,1223.5 L726.1,1227.4 L726.8,1231.2 L727.6,1234.8 L728.4,1238.2 L729.2,1241.5 L730.0,1244.6 L730.7,1247.5 L731.5,1250.3 L732.3,1253.0 L733.1,1255.5 L733.8,1257.8 L734.6,1260.1 L735.4,1262.2 L736.2,1264.1 L737.0,1266.0 L737.7,1267.8 L738.5,1269.4 L739.3,1270.9 L740.1,1272.4 L740.8,1273.8 L741.6,1275.0 L742.4,1276.2 L743.2,1277.3 L744.0,1278.3 L744.7,1279.3 L745.5,1280.2 L746.3,1281.0 L747.1,1281.8 L747.8,1282.5 L748.6,1283.2 L749.4,1283.8 L750.2,1284.4 L751.0,1284.9 L751.7,1285.4 L752.5,1285.8 L753.3,1286.2 L754.1,1286.6 L754.8,1287.0 L755.6,1287.3 L756.4,1287.6 L757.2,1287.8 L758.0,1288.1 L758.7,1288.3 L759.5,1288.5 L760.3,1288.7 L761.1,1288.9 L761.8,1289.0 L762.6,1289.2 L763.4,1289.3 L764.2,1289.4 L765.0,1289.5 L765.7,1289.6 L766.5,1289.7 L767.3,1289.8 L768.1,1289.9 L768.8,1289.9 L769.6,1290.0 L770.4,1290.1 L771.2,1290.1 L771.9,1290.1 L772.7,1290.2 L773.5,1290.2 L774.3,1290.2 L775.1,1290.3 L775.8,1290.3 L776.6,1290.3 L777.4,1290.3 L778.2,1290.4 L778.9,1290.4 L779.7,1290.4 L780.5,1290.4 L781.3,1290.4 L782.1,1290.4 L782.8,1290.4 L783.6,1290.4 L784.4,1290.4 L785.2,1290.5 L785.9,1290.5 L786.7,1290.5 L787.5,1290.5 L788.3,1290.5 L789.1,1290.5 L789.8,1290.5 L790.6,1290.5 L791.4,1290.5 L792.2,1290.5 L792.9,1290.5 L793.7,1290.5 L794.5,1290.5" fill="none" stroke="#00c800" stroke-width="2"/>
<path d="M562.0,1290.5 L562.8,1290.5 L563.6,1290.5 L564.3,1290.5 L565.1,1290.5 L565.9,1290.5 L566.7,1290.5 L567.4,1290.5 L568.2,1290.5 L569.0,1290.5 L569.8,1290.5 L570.6,1290.5 L571.3,1290.5 L572.1,1290.5 L572.9,1290.5 L573.7,1290.5 L574.4,1290.5 L575.2,1290.5 L576.0,1290.5 L576.8,1290.5 L577.6,1290.5 L578.3,1290.5 L579.1,1290.5 L579.9,1290.5 L580.7,1290.5 L581.4,1290.5 L582.2,1290.5 L583.0,1290.5 L583.8,1290.5 L584.6,1290.5 L585.3,1290.5 L586.1,1290.5 L586.9,1290.5 L587.7,1290.5 L588.4,1290.5 L589.2,1290.5 L590.0,1290.5 L590.8,1290.5 L591.5,1290.5 L592.3,1290.5 L593.1,1290.5 L593.9,1290.5 L594.7,1290.5 L595.4,1290.5 L596.2,1290.5 L597.0,1290.5 L597.8,1290.5 L598.5,1290.5 L599.3,1290.5 L600.1,1290.5 L600.9,1290.5 L601.7,1290.5 L602.4,1290.5 L603.2,1290.5 L604.0,1290.5 L604.8,1290.5 L605.5,1290.5 L606.3,1290.5 L607.1,1290.5 L607.9,1290.5 L608.7,1290.5 L609.4,1290.5 L610.2,1290.5 L611.0,1290.5 L611.8,1290.5 L612.5,1290.5 L613.3,1290.5 L614.1,1290.5 L614.9,1290.5 L615.7,1290.5 L616.4,1290.5 L617.2,1290.5 L618.0,1290.5 L618.8,1290.5 L619.5,1290.5 L620.3,1290.5 L621.1,1290.5 L621.9,1290.5 L622.7,1290.5 L623.4,1290.5 L624.2,1290.5 L625.0,1290.5 L625.8,1290.5 L626.5,1290.5 L627.3,1290.5 L628.1,1290.5 L628.9,1290.5 L629.7,1290.5 L630.4,1290.5 L631.2,1290.5 L632.0,1290.5 L632.8,1290.5 L633.5,1290.5 L634.3,1290.5 L635.1,1290.5 L635.9,1290.5 L636.6,1290.5 L637.4,1290.5 L638.2,1290.5 L639.0,1290.5 L639.8,1290.5 L640.5,1290.5 L641.3,1290.5 L642.1,1290.5 L642.9,1290.5 L643.6,1290.5 L644.4,1290.5 L645.2,1290.5 L646.0,1290.5 L646.8,1290.5 L647.5,1290.5 L648.3,1290.5 L649.1,1290.5 L649.9,1290.5 L650.6,1290.5 L651.4,1290.5 L652.2,1290.5 L653.0,1290.5 L653.8,1290.5 L654.5,1290.5 L655.3,1290.5 L656.1,1290.5 L656.9,1290.5 L657.6,1290.5 L658.4,1290.5 L659.2,1290.5 L660.0,1290.5 L660.8,1290.5 L661.5,1290.5 L662.3,1290.5 L663.1,1290.5 L663.9,1290.5 L664.6,1290.5 L665.4,1290.5 L666.2,1290.5 L667.0,1290.5 L667.8,1290.5 L668.5,1290.5 L669.3,1290.5 L670.1,1290.5 L670.9,1290.5 L671.6,1290.5 L672.4,1290.5 L673.2,1290.5 L674.0,1290.5 L674.8,1290.5 L675.5,1290.5 L676.3,1290.5 L677.1,1290.5 L677.9,1290.5 L678.6,1290.5 L679.4,1290.5 L680.2,1290.5 L681.0,1290.5 L681.7,1290.5 L682.5,1290.5 L683.3,1290.5 L684.1,1290.5 L684.9,1290.5 L685.6,1290.5 L686.4,1290.5 L687.2,1290.5 L688.0,1290.5 L688.7,1290.4 L689.5,1290.4 L690.3,1290.4 L691.1,1290.4 L691.9,1290.4 L692.6,1290.4 L693.4,1290.3 L694.2,1290.3 L695.0,1290.2 L695.7,1290.2 L696.5,1290.1 L697.3,1290.1 L698.1,1290.0 L698.9,1289.9 L699.6,1289.8 L700.4,1289.7 L701.2,1289.5 L702.0,1289.4 L702.7,1289.2 L703.5,1289.0 L704.3,1288.7 L705.1,1288.4 L705.9,1288.1 L706.6,1287.8 L707.4,1287.4 L708.2,1286.9 L709.0,1286.4 L709.7,1285.8 L710.5,1285.2 L711.3,1284.5 L712.1,1283.7 L712.9,1282.9 L713.6,1281.9 L714.4,1280.9 L715.2,1279.7 L716.0,1278.5 L716.7,1277.1 L717.5,1275.6 L718.3,1274.0 L719.1,1272.3 L719.9,1270.4 L720.6,1268.4 L721.4,1266.3 L722.2,1264.0 L723.0,1261.6 L723.7,1259.1 L724.5,1256.4 L725.3,1253.6 L726.1,1250.6 L726.8,1247.5 L727.6,1244.3 L728.4,1241.0 L729.2,1237.6 L730.0,1234.0 L730.7,1230.4 L731.5,1226.7 L732.3,1223.0 L733.1,1219.2 L733.8,1215.4 L734.6,1211.6 L735.4,1207.8 L736.2,1204.1 L737.0,1200.4 L737.7,1196.8 L738.5,1193.3 L739.3,1189.9 L740.1,1186.6 L740.8,1183.5 L741.6,1180.6 L742.4,1177.9 L743.2,1175.5 L744.0,1173.2 L744.7,1171.3 L745.5,1169.6 L746.3,1168.2 L747.1,1167.0 L747.8,1166.2 L748.6,1165.7 L749.4,1165.5 L750.2,1165.6 L751.0,1166.0 L751.7,1166.8 L752.5,1167.8 L753.3,1169.2 L754.1,1170.8 L754.8,1172.7 L755.6,1174.9 L756.4,1177.3 L757.2,1179.9 L758.0,1182.8 L758.7,1185.8 L759.5,1189.0 L760.3,1192.4 L761.1,1195.9 L761.8,1199.5 L762.6,1203.1 L763.4,1206.9 L764.2,1210.6 L765.0,1214.4 L765.7,1218.2 L766.5,1222.0 L767.3,1225.8 L768.1,1229.5 L768.8,1233.1 L769.6,1236.7 L770.4,1240.1 L771.2,1243.5 L771.9,1246.7 L772.7,1249.8 L773.5,1252.8 L774.3,1255.7 L775.1,1258.4 L775.8,1261.0 L776.6,1263.4 L777.4,1265.7 L778.2,1267.9 L778.9,1269.9 L779.7,1271.8 L780.5,1273.6 L781.3,1275.2 L782.1,1276.7 L782.8,1278.1 L783.6,1279.4 L784.4,1280.6 L785.2,1281.6 L785.9,1282.6 L786.7,1283.5 L787.5,1284.3 L788.3,1285.0 L789.1,1285.7 L789.8,1286.3 L790.6,1286.8 L791.4,1287.3 L792.2,1287.7 L792.9,1288.0 L793.7,1288.4 L794.5,1288.7" fill="none" stroke="#00c800" stroke-width="2"/>
<path d="M560.1,1290.5 L560.9,1290.5 L561.7,1290.4 L562.5,1290.4 L563.3,1290.4 L564.1,1290.4 L564.9,1290.4 L565.7,1290.4 L566.5,1290.4 L567.3,1290.4 L568.1,1290.3 L568.9,1290.3 L569.7,1290.3 L570.5,1290.3 L571.3,1290.2 L572.1,1290.2 L572.9,1290.2 L573.7,1290.1 L574.5,1290.1 L575.3,1290.0 L576.1,1290.0 L576.9,1289.9 L577.7,1289.9 L578.5,1289.8 L579.3,1289.7 L580.1,1289.6 L580.9,1289.5 L581.7,1289.4 L582.5,1289.3 L583.3,1289.1 L584.1,1289.0 L584.9,1288.8 L585.7,1288.6 L586.5,1288.4 L587.3,1288.2 L588.1,1288.0 L588.9,1287.7 L589.7,1287.4 L590.5,1287.1 L591.3,1286.7 L592.1,1286.4 L592.9,1285.9 L593.7,1285.5 L594.5,1285.0 L595.3,1284.5 L596.1,1283.9 L596.9,1283.3 L597.7,1282.6 L598.5,1281.9 L599.3,1281.1 L600.0,1280.2 L600.8,1279.3 L601.6,1278.3 L602.4,1277.3 L603.2,1276.1 L604.0,1274.9 L604.8,1273.6 L605.6,1272.2 L606.4,1270.7 L607.2,1269.1 L608.0,1267.4 L608.8,1265.5 L609.6,1263.6 L610.4,1261.5 L611.2,1259.3 L612.0,1257.0 L612.8,1254.5 L613.6,1251.9 L614.4,1249.1 L615.2,1246.2 L616.0,1243.1 L616.8,1239.8 L617.6,1236.4 L618.4,1232.7 L619.2,1228.9 L620.0,1224.9 L620.8,1220.8 L621.6,1216.4 L622.4,1211.8 L623.2,1207.0 L624.0,1202.0 L624.8,1196.8 L625.6,1191.4 L626.4,1185.7 L627.2,1179.9 L628.0,1173.8 L628.8,1167.5 L629.6,1161.0 L630.4,1154.3 L631.2,1147.4 L632.0,1140.2 L632.8,1132.9 L633.6,1125.3 L634.4,1117.6 L635.2,1109.7 L636.0,1101.5 L636.8,1093.2 L637.6,1084.7 L638.4,1076.1 L639.2,1067.3 L640.0,1058.4 L640.8,1049.3 L641.6,1040.1 L642.4,1030.9 L643.2,1021.5 L644.0,1012.0 L644.8,1002.5 L645.6,993.0 L646.4,983.4 L647.2,973.8 L648.0,964.2 L648.8,954.7 L649.6,945.2 L650.4,935.7 L651.2,926.4 L652.0,917.1 L652.8,908.0 L653.6,899.1 L654.4,890.3 L655.2,881.6 L656.0,873.2 L656.8,865.1 L657.6,857.1 L658.4,849.5 L659.2,842.1 L660.0,835.0 L660.8,828.3 L661.6,821.9 L662.4,815.9 L663.2,810.2 L664.0,804.9 L664.8,800.1 L665.6,795.6 L666.4,791.6 L667.2,788.0 L668.0,784.9 L668.8,782.3 L669.6,780.1 L670.4,778.4 L671.2,777.1 L672.0,776.4 L672.8,776.1 L673.6,776.3 L674.4,777.0 L675.2,778.2 L676.0,779.9 L676.8,782.0 L677.6,784.6 L678.4,787.7 L679.2,791.2 L679.9,795.2 L680.7,799.6 L681.5,804.4 L682.3,809.6 L683.1,815.2 L683.9,821.2 L684.7,827.6 L685.5,834.3 L686.3,841.3 L687.1,848.6 L687.9,856.3 L688.7,864.2 L689.5,872.3 L690.3,880.7 L691.1,889.2 L691.9,898.0 L692.7,906.9 L693.5,916.0 L694.3,925.2 L695.1,934.5 L695.9,943.9 L696.7,953.3 L697.5,962.8 L698.3,972.3 L699.1,981.8 L699.9,991.2 L700.7,1000.7 L701.5,1010.0 L702.3,1019.3 L703.1,1028.5 L703.9,1037.5 L704.7,1046.4 L705.5,1055.2 L706.3,1063.8 L707.1,1072.2 L707.9,1080.4 L708.7,1088.4 L709.5,1096.2 L710.3,1103.7 L711.1,1111.0 L711.9,1117.9 L712.7,1124.6 L713.5,1131.1 L714.3,1137.2 L715.1,1142.9 L715.9,1148.4 L716.7,1153.5 L717.5,1158.3 L718.3,1162.8 L719.1,1166.9 L719.9,1170.6 L720.7,1174.0 L721.5,1177.0 L722.3,1179.7 L723.1,1182.0 L723.9,1184.0 L724.7,1185.6 L725.5,1186.8 L726.3,1187.8 L727.1,1188.4 L727.9,1188.7 L728.7,1188.7 L729.5,1188.4 L730.3,1187.9 L731.1,1187.1 L731.9,1186.1 L732.7,1184.9 L733.5,1183.5 L734.3,1181.9 L735.1,1180.2 L735.9,1178.4 L736.7,1176.6 L737.5,1174.7 L738.3,1172.7 L739.1,1170.8 L739.9,1169.0 L740.7,1167.2 L741.5,1165.5 L742.3,1163.9 L743.1,1162.5 L743.9,1161.2 L744.7,1160.2 L745.5,1159.3 L746.3,1158.7 L747.1,1158.3 L747.9,1158.2 L748.7,1158.4 L749.5,1158.8 L750.3,1159.6 L751.1,1160.6 L751.9,1161.9 L752.7,1163.5 L753.5,1165.3 L754.3,1167.4 L755.1,1169.8 L755.9,1172.4 L756.7,1175.3 L757.5,1178.3 L758.3,1181.6 L759.1,1185.0 L759.8,1188.6 L760.6,1192.3 L761.4,1196.1 L762.2,1200.0 L763.0,1203.9 L763.8,1207.9 L764.6,1211.9 L765.4,1215.9 L766.2,1219.9 L767.0,1223.9 L767.8,1227.8 L768.6,1231.6 L769.4,1235.3 L770.2,1239.0 L771.0,1242.5 L771.8,1245.9 L772.6,1249.1 L773.4,1252.3 L774.2,1255.2 L775.0,1258.1 L775.8,1260.8 L776.6,1263.3 L777.4,1265.7 L778.2,1267.9 L779.0,1270.0 L779.8,1272.0 L780.6,1273.8 L781.4,1275.4 L782.2,1277.0 L783.0,1278.4 L783.8,1279.7 L784.6,1280.9 L785.4,1281.9 L786.2,1282.9 L787.0,1283.8 L787.8,1284.6 L788.6,1285.3 L789.4,1285.9 L790.2,1286.5 L791.0,1287.0 L791.8,1287.5 L792.6,1287.9 L793.4,1288.2 L794.2,1288.5 L795.0,1288.8 L795.8,1289.1 L796.6,1289.3 L797.4,1289.4 L798.2,1289.6 L799.0,1289.7" fill="none" stroke="#000" stroke-width="7.3" stroke-linejoin="round" stroke-linecap="round"/>
<path d="M1415.0,1327.8 L1415.8,1327.8 L1416.6,1327.7 L1417.4,1327.7 L1418.2,1327.6 L1419.0,1327.6 L1419.8,1327.5 L1420.6,1327.4 L1421.4,1327.4 L1422.2,1327.3 L1423.1,1327.2 L1423.9,1327.1 L1424.7,1327.0 L1425.5,1326.9 L1426.3,1326.8 L1427.1,1326.7 L1427.9,1326.6 L1428.7,1326.5 L1429.5,1326.3 L1430.3,1326.2 L1431.1,1326.0 L1431.9,1325.9 L1432.7,1325.7 L1433.5,1325.5 L1434.3,1325.3 L1435.1,1325.1 L1435.9,1324.9 L1436.7,1324.6 L1437.5,1324.4 L1438.3,1324.1 L1439.2,1323.8 L1440.0,1323.5 L1440.8,1323.2 L1441.6,1322.9 L1442.4,1322.5 L1443.2,1322.1 L1444.0,1321.7 L1444.8,1321.3 L1445.6,1320.9 L1446.4,1320.4 L1447.2,1319.9 L1448.0,1319.4 L1448.8,1318.9 L1449.6,1318.3 L1450.4,1317.7 L1451.2,1317.1 L1452.0,1316.4 L1452.8,1315.8 L1453.6,1315.0 L1454.4,1314.3 L1455.3,1313.5 L1456.1,1312.6 L1456.9,1311.8 L1457.7,1310.8 L1458.5,1309.9 L1459.3,1308.9 L1460.1,1307.8 L1460.9,1306.7 L1461.7,1305.6 L1462.5,1304.4 L1463.3,1303.1 L1464.1,1301.8 L1464.9,1300.5 L1465.7,1299.1 L1466.5,1297.6 L1467.3,1296.1 L1468.1,1294.5 L1468.9,1292.8 L1469.7,1291.1 L1470.5,1289.3 L1471.4,1287.5 L1472.2,1285.5 L1473.0,1283.6 L1473.8,1281.5 L1474.6,1279.3 L1475.4,1277.1 L1476.2,1274.8 L1477.0,1272.5 L1477.8,1270.0 L1478.6,1267.5 L1479.4,1264.9 L1480.2,1262.2 L1481.0,1259.4 L1481.8,1256.5 L1482.6,1253.6 L1483.4,1250.5 L1484.2,1247.4 L1485.0,1244.2 L1485.8,1240.8 L1486.6,1237.4 L1487.5,1233.9 L1488.3,1230.4 L1489.1,1226.7 L1489.9,1222.9 L1490.7,1219.0 L1491.5,1215.1 L1492.3,1211.0 L1493.1,1206.9 L1493.9,1202.6 L1494.7,1198.3 L1495.5,1193.9 L1496.3,1189.4 L1497.1,1184.8 L1497.9,1180.1 L1498.7,1175.3 L1499.5,1170.4 L1500.3,1165.5 L1501.1,1160.5 L1501.9,1155.3 L1502.7,1150.2 L1503.6,1144.9 L1504.4,1139.5 L1505.2,1134.1 L1506.0,1128.7 L1506.8,1123.1 L1507.6,1117.5 L1508.4,1111.8 L1509.2,1106.1 L1510.0,1100.3 L1510.8,1094.5 L1511.6,1088.6 L1512.4,1082.7 L1513.2,1076.7 L1514.0,1070.7 L1514.8,1064.7 L1515.6,1058.7 L1516.4,1052.6 L1517.2,1046.5 L1518.0,1040.5 L1518.8,1034.4 L1519.7,1028.3 L1520.5,1022.2 L1521.3,1016.1 L1522.1,1010.0 L1522.9,1004.0 L1523.7,998.0 L1524.5,992.0 L1525.3,986.1 L1526.1,980.2 L1526.9,974.4 L1527.7,968.6 L1528.5,962.9 L1529.3,957.2 L1530.1,951.6 L1530.9,946.1 L1531.7,940.7 L1532.5,935.4 L1533.3,930.2 L1534.1,925.1 L1534.9,920.1 L1535.8,915.2 L1536.6,910.4 L1537.4,905.8 L1538.2,901.3 L1539.0,896.9 L1539.8,892.7 L1540.6,888.6 L1541.4,884.7 L1542.2,880.9 L1543.0,877.3 L1543.8,873.9 L1544.6,870.6 L1545.4,867.5 L1546.2,864.6 L1547.0,861.9 L1547.8,859.3 L1548.6,857.0 L1549.4,854.8 L1550.2,852.8 L1551.0,851.1 L1551.9,849.5 L1552.7,848.1 L1553.5,846.9 L1554.3,846.0 L1555.1,845.2 L1555.9,844.7 L1556.7,844.3 L1557.5,844.2 L1558.3,844.3 L1559.1,844.6 L1559.9,845.1 L1560.7,845.8 L1561.5,846.7 L1562.3,847.8 L1563.1,849.1 L1563.9,850.6 L1564.7,852.3 L1565.5,854.2 L1566.3,856.3 L1567.1,858.6 L1568.0,861.1 L1568.8,863.8 L1569.6,866.7 L1570.4,869.7 L1571.2,872.9 L1572.0,876.3 L1572.8,879.9 L1573.6,883.6 L1574.4,887.5 L1575.2,891.5 L1576.0,895.7 L1576.8,900.0 L1577.6,904.5 L1578.4,909.1 L1579.2,913.8 L1580.0,918.7 L1580.8,923.7 L1581.6,928.8 L1582.4,933.9 L1583.2,939.2 L1584.1,944.6 L1584.9,950.1 L1585.7,955.6 L1586.5,961.3 L1587.3,967.0 L1588.1,972.7 L1588.9,978.6 L1589.7,984.4 L1590.5,990.4 L1591.3,996.3 L1592.1,1002.3 L1592.9,1008.4 L1593.7,1014.4 L1594.5,1020.5 L1595.3,1026.6 L1596.1,1032.7 L1596.9,1038.8 L1597.7,1044.8 L1598.5,1050.9 L1599.3,1057.0 L1600.2,1063.0 L1601.0,1069.1 L1601.8,1075.1 L1602.6,1081.0 L1603.4,1087.0 L1604.2,1092.9 L1605.0,1098.7 L1605.8,1104.5 L1606.6,1110.2 L1607.4,1115.9 L1608.2,1121.6 L1609.0,1127.1 L1609.8,1132.6 L1610.6,1138.0 L1611.4,1143.4 L1612.2,1148.7 L1613.0,1153.9 L1613.8,1159.0 L1614.6,1164.1 L1615.4,1169.1 L1616.3,1173.9 L1617.1,1178.8 L1617.9,1183.5 L1618.7,1188.1 L1619.5,1192.6 L1620.3,1197.1 L1621.1,1201.4 L1621.9,1205.7 L1622.7,1209.9 L1623.5,1213.9 L1624.3,1217.9 L1625.1,1221.8 L1625.9,1225.6 L1626.7,1229.3 L1627.5,1233.0 L1628.3,1236.5 L1629.1,1239.9 L1629.9,1243.2 L1630.7,1246.5 L1631.5,1249.7 L1632.4,1252.7 L1633.2,1255.7 L1634.0,1258.6 L1634.8,1261.4 L1635.6,1264.1 L1636.4,1266.8 L1637.2,1269.3 L1638.0,1271.8 L1638.8,1274.2 L1639.6,1276.5 L1640.4,1278.7 L1641.2,1280.9 L1642.0,1283.0 L1642.8,1285.0 L1643.6,1286.9 L1644.4,1288.8 L1645.2,1290.6 L1646.0,1292.4 L1646.8,1294.0 L1647.6,1295.6 L1648.5,1297.2 L1649.3,1298.7 L1650.1,1300.1 L1650.9,1301.5 L1651.7,1302.8 L1652.5,1304.0 L1653.3,1305.3 L1654.1,1306.4 L1654.9,1307.5 L1655.7,1308.6" fill="none" stroke="#000" stroke-width="7.3" stroke-linejoin="round" stroke-linecap="round"/>
<path d="M506.9,1893.7 L508.4,1893.7 L510.0,1893.7 L511.5,1893.7 L513.1,1893.7 L514.6,1893.7 L516.1,1893.7 L517.7,1893.7 L519.2,1893.7 L520.8,1893.7 L522.3,1893.7 L523.9,1893.7 L525.4,1893.7 L526.9,1893.6 L528.5,1893.6 L530.0,1893.6 L531.6,1893.6 L533.1,1893.6 L534.6,1893.6 L536.2,1893.6 L537.7,1893.6 L539.3,1893.6 L540.8,1893.6 L542.3,1893.5 L543.9,1893.5 L545.4,1893.5 L547.0,1893.5 L548.5,1893.5 L550.1,1893.4 L551.6,1893.4 L553.1,1893.4 L554.7,1893.3 L556.2,1893.3 L557.8,1893.3 L559.3,1893.2 L560.8,1893.2 L562.4,1893.1 L563.9,1893.1 L565.5,1893.0 L567.0,1892.9 L568.5,1892.8 L570.1,1892.8 L571.6,1892.7 L573.2,1892.6 L574.7,1892.5 L576.3,1892.3 L577.8,1892.2 L579.3,1892.1 L580.9,1891.9 L582.4,1891.8 L584.0,1891.6 L585.5,1891.4 L587.0,1891.2 L588.6,1891.0 L590.1,1890.7 L591.7,1890.5 L593.2,1890.2 L594.7,1889.9 L596.3,1889.6 L597.8,1889.2 L599.4,1888.8 L600.9,1888.4 L602.5,1888.0 L604.0,1887.5 L605.5,1887.1 L607.1,1886.5 L608.6,1886.0 L610.2,1885.4 L611.7,1884.7 L613.2,1884.1 L614.8,1883.3 L616.3,1882.6 L617.9,1881.8 L619.4,1880.9 L620.9,1880.0 L622.5,1879.0 L624.0,1878.0 L625.6,1876.9 L627.1,1875.7 L628.6,1874.5 L630.2,1873.2 L631.7,1871.9 L633.3,1870.5 L634.8,1869.0 L636.4,1867.4 L637.9,1865.7 L639.4,1864.0 L641.0,1862.2 L642.5,1860.3 L644.1,1858.3 L645.6,1856.2 L647.1,1854.0 L648.7,1851.7 L650.2,1849.3 L651.8,1846.9 L653.3,1844.3 L654.8,1841.6 L656.4,1838.8 L657.9,1835.9 L659.5,1832.9 L661.0,1829.8 L662.6,1826.6 L664.1,1823.3 L665.6,1819.8 L667.2,1816.3 L668.7,1812.7 L670.3,1808.9 L671.8,1805.0 L673.3,1801.0 L674.9,1796.9 L676.4,1792.8 L678.0,1788.5 L679.5,1784.1 L681.0,1779.6 L682.6,1775.0 L684.1,1770.3 L685.7,1765.5 L687.2,1760.7 L688.8,1755.7 L690.3,1750.7 L691.8,1745.6 L693.4,1740.5 L694.9,1735.3 L696.5,1730.0 L698.0,1724.7 L699.5,1719.3 L701.1,1713.9 L702.6,1708.5 L704.2,1703.0 L705.7,1697.5 L707.2,1692.1 L708.8,1686.6 L710.3,1681.1 L711.9,1675.7 L713.4,1670.3 L715.0,1664.9 L716.5,1659.5 L718.0,1654.2 L719.6,1649.0 L721.1,1643.9 L722.7,1638.8 L724.2,1633.8 L725.7,1628.9 L727.3,1624.2 L728.8,1619.5 L730.4,1615.0 L731.9,1610.6 L733.4,1606.4 L735.0,1602.3 L736.5,1598.3 L738.1,1594.6 L739.6,1591.0 L741.2,1587.6 L742.7,1584.4 L744.2,1581.4 L745.8,1578.6 L747.3,1576.0 L748.9,1573.6 L750.4,1571.5 L751.9,1569.6 L753.5,1567.9 L755.0,1566.4 L756.6,1565.2 L758.1,1564.2 L759.6,1563.5 L761.2,1563.0 L762.7,1562.7 L764.3,1562.7 L765.8,1563.0 L767.4,1563.5 L768.9,1564.2 L770.4,1565.2 L772.0,1566.4 L773.5,1567.9 L775.1,1569.6 L776.6,1571.5 L778.1,1573.6 L779.7,1576.0 L781.2,1578.6 L782.8,1581.4 L784.3,1584.4 L785.8,1587.6 L787.4,1591.0 L788.9,1594.6 L790.5,1598.3 L792.0,1602.3 L793.6,1606.4 L795.1,1610.6 L796.6,1615.0 L798.2,1619.5 L799.7,1624.2 L801.3,1628.9 L802.8,1633.8 L804.3,1638.8 L805.9,1643.9 L807.4,1649.0 L809.0,1654.2 L810.5,1659.5 L812.0,1664.9 L813.6,1670.2 L815.1,1675.7 L816.7,1681.1 L818.2,1686.6 L819.8,1692.1 L821.3,1697.5 L822.8,1703.0 L824.4,1708.5 L825.9,1713.9 L827.5,1719.3 L829.0,1724.7 L830.5,1730.0 L832.1,1735.2 L833.6,1740.5 L835.2,1745.6 L836.7,1750.7 L838.2,1755.7 L839.8,1760.7 L841.3,1765.5 L842.9,1770.3 L844.4,1775.0 L846.0,1779.6 L847.5,1784.1 L849.0,1788.5 L850.6,1792.8 L852.1,1796.9 L853.7,1801.0 L855.2,1805.0 L856.7,1808.9 L858.3,1812.6 L859.8,1816.3 L861.4,1819.8 L862.9,1823.3 L864.4,1826.6 L866.0,1829.8 L867.5,1832.9 L869.1,1835.9 L870.6,1838.8 L872.1,1841.6 L873.7,1844.3 L875.2,1846.9 L876.8,1849.3 L878.3,1851.7 L879.9,1854.0 L881.4,1856.2 L882.9,1858.3 L884.5,1860.3 L886.0,1862.2 L887.6,1864.0 L889.1,1865.7 L890.6,1867.4 L892.2,1869.0 L893.7,1870.5 L895.3,1871.9 L896.8,1873.2 L898.3,1874.5 L899.9,1875.7 L901.4,1876.9 L903.0,1878.0 L904.5,1879.0 L906.1,1880.0 L907.6,1880.9 L909.1,1881.8 L910.7,1882.6 L912.2,1883.3 L913.8,1884.1 L915.3,1884.7 L916.8,1885.4 L918.4,1886.0 L919.9,1886.5 L921.5,1887.1 L923.0,1887.5 L924.5,1888.0 L926.1,1888.4 L927.6,1888.8 L929.2,1889.2 L930.7,1889.6 L932.3,1889.9 L933.8,1890.2 L935.3,1890.5 L936.9,1890.7 L938.4,1891.0 L940.0,1891.2 L941.5,1891.4 L943.0,1891.6 L944.6,1891.8 L946.1,1891.9 L947.7,1892.1 L949.2,1892.2 L950.7,1892.3 L952.3,1892.5 L953.8,1892.6 L955.4,1892.7 L956.9,1892.8 L958.5,1892.8 L960.0,1892.9 L961.5,1893.0 L963.1,1893.1 L964.6,1893.1 L966.2,1893.2 L967.7,1893.2" fill="none" stroke="#000" stroke-width="7.3" stroke-linejoin="round" stroke-linecap="round"/>
<path d="M1317.6,1917.8 L1319.9,1917.8 L1322.1,1917.8 L1324.4,1917.8 L1326.6,1917.8 L1328.9,1917.8 L1331.1,1917.8 L1333.4,1917.8 L1335.6,1917.8 L1337.9,1917.8 L1340.1,1917.8 L1342.4,1917.8 L1344.6,1917.8 L1346.9,1917.8 L1349.1,1917.8 L1351.4,1917.8 L1353.6,1917.8 L1355.9,1917.8 L1358.1,1917.8 L1360.4,1917.8 L1362.6,1917.8 L1364.9,1917.8 L1367.1,1917.8 L1369.4,1917.8 L1371.6,1917.8 L1373.9,1917.8 L1376.1,1917.8 L1378.4,1917.8 L1380.6,1917.8 L1382.9,1917.8 L1385.1,1917.8 L1387.4,1917.8 L1389.6,1917.8 L1391.9,1917.8 L1394.1,1917.8 L1396.4,1917.8 L1398.6,1917.8 L1400.9,1917.8 L1403.1,1917.8 L1405.4,1917.8 L1407.6,1917.8 L1409.9,1917.8 L1412.1,1917.8 L1414.4,1917.8 L1416.6,1917.8 L1418.9,1917.8 L1421.1,1917.8 L1423.4,1917.8 L1425.6,1917.8 L1427.9,1917.8 L1430.1,1917.8 L1432.4,1917.8 L1434.6,1917.8 L1436.9,1917.8 L1439.1,1917.8 L1441.4,1917.8 L1443.6,1917.8 L1445.9,1917.8 L1448.1,1917.7 L1450.4,1917.7 L1452.6,1917.7 L1454.9,1917.7 L1457.1,1917.7 L1459.4,1917.7 L1461.6,1917.7 L1463.9,1917.6 L1466.1,1917.6 L1468.4,1917.6 L1470.6,1917.6 L1472.9,1917.5 L1475.1,1917.5 L1477.4,1917.4 L1479.6,1917.4 L1481.9,1917.3 L1484.1,1917.3 L1486.4,1917.2 L1488.6,1917.1 L1490.9,1917.0 L1493.1,1916.9 L1495.4,1916.8 L1497.6,1916.6 L1499.9,1916.5 L1502.1,1916.3 L1504.4,1916.1 L1506.6,1915.9 L1508.9,1915.6 L1511.1,1915.4 L1513.4,1915.1 L1515.6,1914.7 L1517.9,1914.3 L1520.1,1913.9 L1522.4,1913.5 L1524.6,1913.0 L1526.9,1912.4 L1529.1,1911.8 L1531.4,1911.1 L1533.6,1910.4 L1535.9,1909.6 L1538.1,1908.7 L1540.4,1907.7 L1542.7,1906.6 L1544.9,1905.5 L1547.2,1904.2 L1549.4,1902.8 L1551.7,1901.3 L1553.9,1899.7 L1556.2,1898.0 L1558.4,1896.1 L1560.7,1894.1 L1562.9,1891.9 L1565.2,1889.6 L1567.4,1887.1 L1569.7,1884.4 L1571.9,1881.5 L1574.2,1878.4 L1576.4,1875.2 L1578.7,1871.7 L1580.9,1868.0 L1583.2,1864.1 L1585.4,1859.9 L1587.7,1855.5 L1589.9,1850.9 L1592.2,1846.0 L1594.4,1840.9 L1596.7,1835.5 L1598.9,1829.9 L1601.2,1824.0 L1603.4,1817.8 L1605.7,1811.4 L1607.9,1804.7 L1610.2,1797.8 L1612.4,1790.6 L1614.7,1783.2 L1616.9,1775.5 L1619.2,1767.5 L1621.4,1759.4 L1623.7,1751.0 L1625.9,1742.5 L1628.2,1733.7 L1630.4,1724.7 L1632.7,1715.6 L1634.9,1706.4 L1637.2,1697.0 L1639.4,1687.5 L1641.7,1678.0 L1643.9,1668.3 L1646.2,1658.7 L1648.4,1649.0 L1650.7,1639.3 L1652.9,1629.7 L1655.2,1620.2 L1657.4,1610.7 L1659.7,1601.4 L1661.9,1592.2 L1664.2,1583.2 L1666.4,1574.5 L1668.7,1566.0 L1670.9,1557.7 L1673.2,1549.8 L1675.4,1542.1 L1677.7,1534.9 L1679.9,1528.0 L1682.2,1521.6 L1684.4,1515.5 L1686.7,1510.0 L1688.9,1504.9 L1691.2,1500.3 L1693.4,1496.2 L1695.7,1492.7 L1697.9,1489.7 L1700.2,1487.3 L1702.4,1485.4 L1704.7,1484.1 L1706.9,1483.4 L1709.2,1483.3 L1711.4,1483.8 L1713.7,1484.9 L1715.9,1486.5 L1718.2,1488.7 L1720.4,1491.5 L1722.7,1494.8 L1724.9,1498.6 L1727.2,1503.0 L1729.4,1507.9 L1731.7,1513.3 L1733.9,1519.2 L1736.2,1525.5 L1738.4,1532.2 L1740.7,1539.3 L1742.9,1546.8 L1745.2,1554.6 L1747.4,1562.7 L1749.7,1571.1 L1751.9,1579.8 L1754.2,1588.7 L1756.4,1597.8 L1758.7,1607.1 L1760.9,1616.5 L1763.2,1626.0 L1765.4,1635.6 L1767.7,1645.2 L1770.0,1654.9 L1772.2,1664.6 L1774.5,1674.2 L1776.7,1683.8 L1779.0,1693.3 L1781.2,1702.8 L1783.5,1712.1 L1785.7,1721.2 L1788.0,1730.2 L1790.2,1739.1 L1792.5,1747.7 L1794.7,1756.2 L1797.0,1764.4 L1799.2,1772.4 L1801.5,1780.2 L1803.7,1787.7 L1806.0,1795.0 L1808.2,1802.1 L1810.5,1808.8 L1812.7,1815.4 L1815.0,1821.6 L1817.2,1827.6 L1819.5,1833.4 L1821.7,1838.9 L1824.0,1844.1 L1826.2,1849.1 L1828.5,1853.8 L1830.7,1858.3 L1833.0,1862.5 L1835.2,1866.5 L1837.5,1870.3 L1839.7,1873.8 L1842.0,1877.2 L1844.2,1880.3 L1846.5,1883.3 L1848.7,1886.0 L1851.0,1888.6 L1853.2,1891.0 L1855.5,1893.3 L1857.7,1895.3 L1860.0,1897.3 L1862.2,1899.1 L1864.5,1900.7 L1866.7,1902.3 L1869.0,1903.7 L1871.2,1905.0 L1873.5,1906.2 L1875.7,1907.3 L1878.0,1908.3 L1880.2,1909.2 L1882.5,1910.1 L1884.7,1910.8 L1887.0,1911.5 L1889.2,1912.2 L1891.5,1912.8 L1893.7,1913.3 L1896.0,1913.8 L1898.2,1914.2 L1900.5,1914.6 L1902.7,1914.9 L1905.0,1915.2 L1907.2,1915.5 L1909.5,1915.8 L1911.7,1916.0 L1914.0,1916.2 L1916.2,1916.4 L1918.5,1916.6 L1920.7,1916.7 L1923.0,1916.8 L1925.2,1917.0 L1927.5,1917.1 L1929.7,1917.2 L1932.0,1917.2 L1934.2,1917.3 L1936.5,1917.4 L1938.7,1917.4 L1941.0,1917.5 L1943.2,1917.5 L1945.5,1917.6 L1947.7,1917.6 L1950.0,1917.6 L1952.2,1917.6 L1954.5,1917.7 L1956.7,1917.7 L1959.0,1917.7 L1961.2,1917.7 L1963.5,1917.7 L1965.7,1917.7 L1968.0,1917.7 L1970.2,1917.8 L1972.5,1917.8 L1974.7,1917.8 L1977.0,1917.8 L1979.2,1917.8 L1981.5,1917.8 L1983.7,1917.8 L1986.0,1917.8 L1988.2,1917.8 L1990.5,1917.8" fill="none" stroke="#000" stroke-width="7.3" stroke-linejoin="round" stroke-linecap="round"/>
<line x1="1193.0" y1="125.0" x2="1193.0" y2="732.0" stroke="#a0a0a0" stroke-width="5"/>
<line x1="1193.0" y1="732.0" x2="1993.5" y2="732.0" stroke="#a0a0a0" stroke-width="4.6"/>
<g stroke="#000" stroke-width="2" fill="none">
<rect x="391.0" y="125.0" width="1602.5" height="1815.2"/>
<line x1="1193.0" y1="125.0" x2="1193.0" y2="1940.2" stroke-width="2.3"/>
<line x1="1193.0" y1="732.0" x2="1993.5" y2="732.0" stroke-width="1.8"/>
<line x1="391.0" y1="1336.6" x2="1993.5" y2="1336.6"/>
</g>
<line x1="391.0" y1="732.8" x2="1193.0" y2="732.8" stroke="#6e6e6e" stroke-width="3.4"/>
<path d="M391.0,247.4 h12 M391.0,367.8 h12 M391.0,490.1 h12 M391.0,610.5 h12 M391.0,187.4 h6 M391.0,307.8 h6 M391.0,430.4 h6 M391.0,550.2 h6 M391.0,670.6 h6 M391.0,853.1 h12 M391.0,973.5 h12 M391.0,1094.2 h12 M391.0,1216.6 h12 M391.0,793.4 h6 M391.0,913.5 h6 M391.0,1034.2 h6 M391.0,1154.9 h6 M391.0,1276.9 h6 M391.0,1538.6 h12 M391.0,1738.6 h12 M391.0,1437.5 h6 M391.0,1637.1 h6 M391.0,1839.4 h6 M1993.5,212.8 h-12 M1993.5,385.7 h-12 M1993.5,558.6 h-12 M1993.5,299.2 h-6 M1993.5,472.8 h-6 M1993.5,645.1 h-6 M1993.5,853.1 h-12 M1993.5,973.8 h-12 M1993.5,1094.6 h-12 M1993.5,1216.6 h-12 M1993.5,792.4 h-6 M1993.5,914.1 h-6 M1993.5,1034.2 h-6 M1993.5,1154.9 h-6 M1993.5,1276.9 h-6 M1993.5,1539.3 h-12 M1993.5,1738.6 h-12 M1993.5,1438.1 h-6 M1993.5,1639.7 h-6 M1993.5,1839.4 h-6 M1193.0,169.6 h-5.5 M1193.0,212.8 h-11 M1193.0,256.0 h-5.5 M1193.0,299.3 h-11 M1193.0,342.5 h-5.5 M1193.0,385.7 h-11 M1193.0,429.0 h-5.5 M1193.0,472.2 h-11 M1193.0,515.4 h-5.5 M1193.0,558.6 h-11 M1193.0,601.9 h-5.5 M1193.0,645.1 h-11 M1193.0,688.3 h-5.5 M1193.0,212.8 h11 M1193.0,385.7 h11 M1193.0,558.6 h11 M1193.0,299.2 h5.5 M1193.0,472.8 h5.5 M1193.0,645.1 h5.5 M1181.0,853.1 h24 M1181.0,973.5 h24 M1181.0,1094.2 h24 M1181.0,1216.6 h24 M1181.0,1538.6 h24 M1181.0,1738.6 h24 M1187.0,793.4 h12 M1187.0,913.5 h12 M1187.0,1034.2 h12 M1187.0,1154.9 h12 M1187.0,1276.9 h12 M1187.0,1437.5 h12 M1187.0,1637.1 h12 M1187.0,1839.4 h12 M490.0,125.0 v6 M1292.0,125.0 v6 M589.0,125.0 v12 M1391.0,125.0 v12 M688.0,125.0 v6 M1490.0,125.0 v6 M787.0,125.0 v12 M1589.0,125.0 v12 M886.0,125.0 v6 M1688.0,125.0 v6 M985.0,125.0 v12 M1787.0,125.0 v12 M1084.0,125.0 v6 M1886.0,125.0 v6 M1183.0,125.0 v12 M1985.0,125.0 v12 M480.1,1940.2 v-6 M480.1,729.0 v6 M480.1,1333.6 v6 M569.2,1940.2 v-12 M569.2,726.0 v12 M569.2,1330.6 v12 M658.3,1940.2 v-6 M658.3,729.0 v6 M658.3,1333.6 v6 M747.4,1940.2 v-12 M747.4,726.0 v12 M747.4,1330.6 v12 M836.6,1940.2 v-6 M836.6,729.0 v6 M836.6,1333.6 v6 M925.7,1940.2 v-12 M925.7,726.0 v12 M925.7,1330.6 v12 M1014.8,1940.2 v-6 M1014.8,729.0 v6 M1014.8,1333.6 v6 M1103.9,1940.2 v-12 M1103.9,726.0 v12 M1103.9,1330.6 v12 M1281.9,1940.2 v-6 M1281.9,729.0 v6 M1281.9,1333.6 v6 M1370.9,1940.2 v-12 M1370.9,726.0 v12 M1370.9,1330.6 v12 M1459.8,1940.2 v-6 M1459.8,729.0 v6 M1459.8,1333.6 v6 M1548.8,1940.2 v-12 M1548.8,726.0 v12 M1548.8,1330.6 v12 M1637.7,1940.2 v-6 M1637.7,729.0 v6 M1637.7,1333.6 v6 M1726.7,1940.2 v-12 M1726.7,726.0 v12 M1726.7,1330.6 v12 M1815.6,1940.2 v-6 M1815.6,729.0 v6 M1815.6,1333.6 v6 M1904.6,1940.2 v-12 M1904.6,726.0 v12 M1904.6,1330.6 v12" stroke="#000" stroke-width="2.2" fill="none"/>
<text x="795" y="89.8" font-family="'Liberation Serif', serif" font-size="74" font-weight="bold" text-anchor="middle" >Potentiostatic</text>
<text x="1574" y="88.6" font-family="'Liberation Serif', serif" font-size="74" font-weight="bold" text-anchor="middle" >Galvanostatic</text>
<text x="96" y="467.3" font-family="'Liberation Serif', serif" font-size="84" font-weight="bold" text-anchor="middle" >1 C</text>
<text x="96" y="1083.2" font-family="'Liberation Serif', serif" font-size="84" font-weight="bold" text-anchor="middle" >2 C</text>
<text x="96" y="1700.4" font-family="'Liberation Serif', serif" font-size="84" font-weight="bold" text-anchor="middle" >3 C</text>
<text x="0" y="0" font-family="'Liberation Serif', serif" font-size="64.5" font-weight="bold" text-anchor="middle" transform="translate(231.6,454.7) rotate(-90)">Counts (n°)</text>
<text x="0" y="0" font-family="'Liberation Serif', serif" font-size="64.5" font-weight="bold" text-anchor="middle" transform="translate(231.6,1067.3) rotate(-90)">Counts (n°)</text>
<text x="0" y="0" font-family="'Liberation Serif', serif" font-size="64.5" font-weight="bold" text-anchor="middle" transform="translate(231.6,1674.8) rotate(-90)">Counts (n°)</text>
<text x="363" y="264" font-family="'Liberation Serif', serif" font-size="56" font-weight="normal" text-anchor="end" >30</text>
<text x="363" y="511" font-family="'Liberation Serif', serif" font-size="56" font-weight="normal" text-anchor="end" >15</text>
<text x="356" y="870" font-family="'Liberation Serif', serif" font-size="56" font-weight="normal" text-anchor="end" >40</text>
<text x="354" y="1111" font-family="'Liberation Serif', serif" font-size="56" font-weight="normal" text-anchor="end" >20</text>
<text x="365" y="1559.5" font-family="'Liberation Serif', serif" font-size="56" font-weight="normal" text-anchor="end" >30</text>
<text x="362" y="1753.5" font-family="'Liberation Serif', serif" font-size="56" font-weight="normal" text-anchor="end" >15</text>
<text x="2021" y="234" font-family="'Liberation Serif', serif" font-size="56" font-weight="normal" text-anchor="start" >45</text>
<text x="2019" y="574.5" font-family="'Liberation Serif', serif" font-size="56" font-weight="normal" text-anchor="start" >15</text>
<text x="2021" y="870" font-family="'Liberation Serif', serif" font-size="56" font-weight="normal" text-anchor="start" >40</text>
<text x="2019" y="1111" font-family="'Liberation Serif', serif" font-size="56" font-weight="normal" text-anchor="start" >20</text>
<text x="2019" y="1562.5" font-family="'Liberation Serif', serif" font-size="56" font-weight="normal" text-anchor="start" >20</text>
<text x="2020" y="1757" font-family="'Liberation Serif', serif" font-size="56" font-weight="normal" text-anchor="start" >10</text>
<text x="389.4" y="1988.6" font-family="'Liberation Sans', sans-serif" font-size="48.5" font-weight="bold" text-anchor="middle" >0</text>
<text x="567.6" y="1988.6" font-family="'Liberation Sans', sans-serif" font-size="48.5" font-weight="bold" text-anchor="middle" >400</text>
<text x="745.8" y="1988.6" font-family="'Liberation Sans', sans-serif" font-size="48.5" font-weight="bold" text-anchor="middle" >800</text>
<text x="924.1" y="1988.6" font-family="'Liberation Sans', sans-serif" font-size="48.5" font-weight="bold" text-anchor="middle" >1200</text>
<text x="1102.3" y="1988.6" font-family="'Liberation Sans', sans-serif" font-size="48.5" font-weight="bold" text-anchor="middle" >1600</text>
<text x="1191.4" y="1988.6" font-family="'Liberation Sans', sans-serif" font-size="48.5" font-weight="bold" text-anchor="middle" >0</text>
<text x="1369.3" y="1988.6" font-family="'Liberation Sans', sans-serif" font-size="48.5" font-weight="bold" text-anchor="middle" >400</text>
<text x="1547.2" y="1988.6" font-family="'Liberation Sans', sans-serif" font-size="48.5" font-weight="bold" text-anchor="middle" >800</text>
<text x="1725.1" y="1988.6" font-family="'Liberation Sans', sans-serif" font-size="48.5" font-weight="bold" text-anchor="middle" >1200</text>
<text x="1903.0" y="1988.6" font-family="'Liberation Sans', sans-serif" font-size="48.5" font-weight="bold" text-anchor="middle" >1600</text>
<text x="787.8" y="2087.3" font-family="'Liberation Serif', serif" font-size="64.5" font-weight="bold" text-anchor="middle" >Height (nm)</text>
<text x="1598.2" y="2082.3" font-family="'Liberation Serif', serif" font-size="64.5" font-weight="bold" text-anchor="middle" >Height (nm)</text>
<text x="439.5" y="236" font-family="'Liberation Serif', serif" font-size="80" font-weight="bold" text-anchor="start" letter-spacing="1.8">(a)</text>
<text x="1236.4" y="236.3" font-family="'Liberation Serif', serif" font-size="80" font-weight="bold" text-anchor="start" letter-spacing="1.8">(b)</text>
<text x="439.3" y="856.4" font-family="'Liberation Serif', serif" font-size="80" font-weight="bold" text-anchor="start" letter-spacing="1.8">(c)</text>
<text x="1229.1000000000001" y="856" font-family="'Liberation Serif', serif" font-size="80" font-weight="bold" text-anchor="start" letter-spacing="1.8">(d)</text>
<text x="442.9" y="1476" font-family="'Liberation Serif', serif" font-size="80" font-weight="bold" text-anchor="start" letter-spacing="1.8">(e)</text>
<text x="1229.1000000000001" y="1476" font-family="'Liberation Serif', serif" font-size="80" font-weight="bold" text-anchor="start" letter-spacing="1.8">(f)</text>
</svg>
</body></html>
